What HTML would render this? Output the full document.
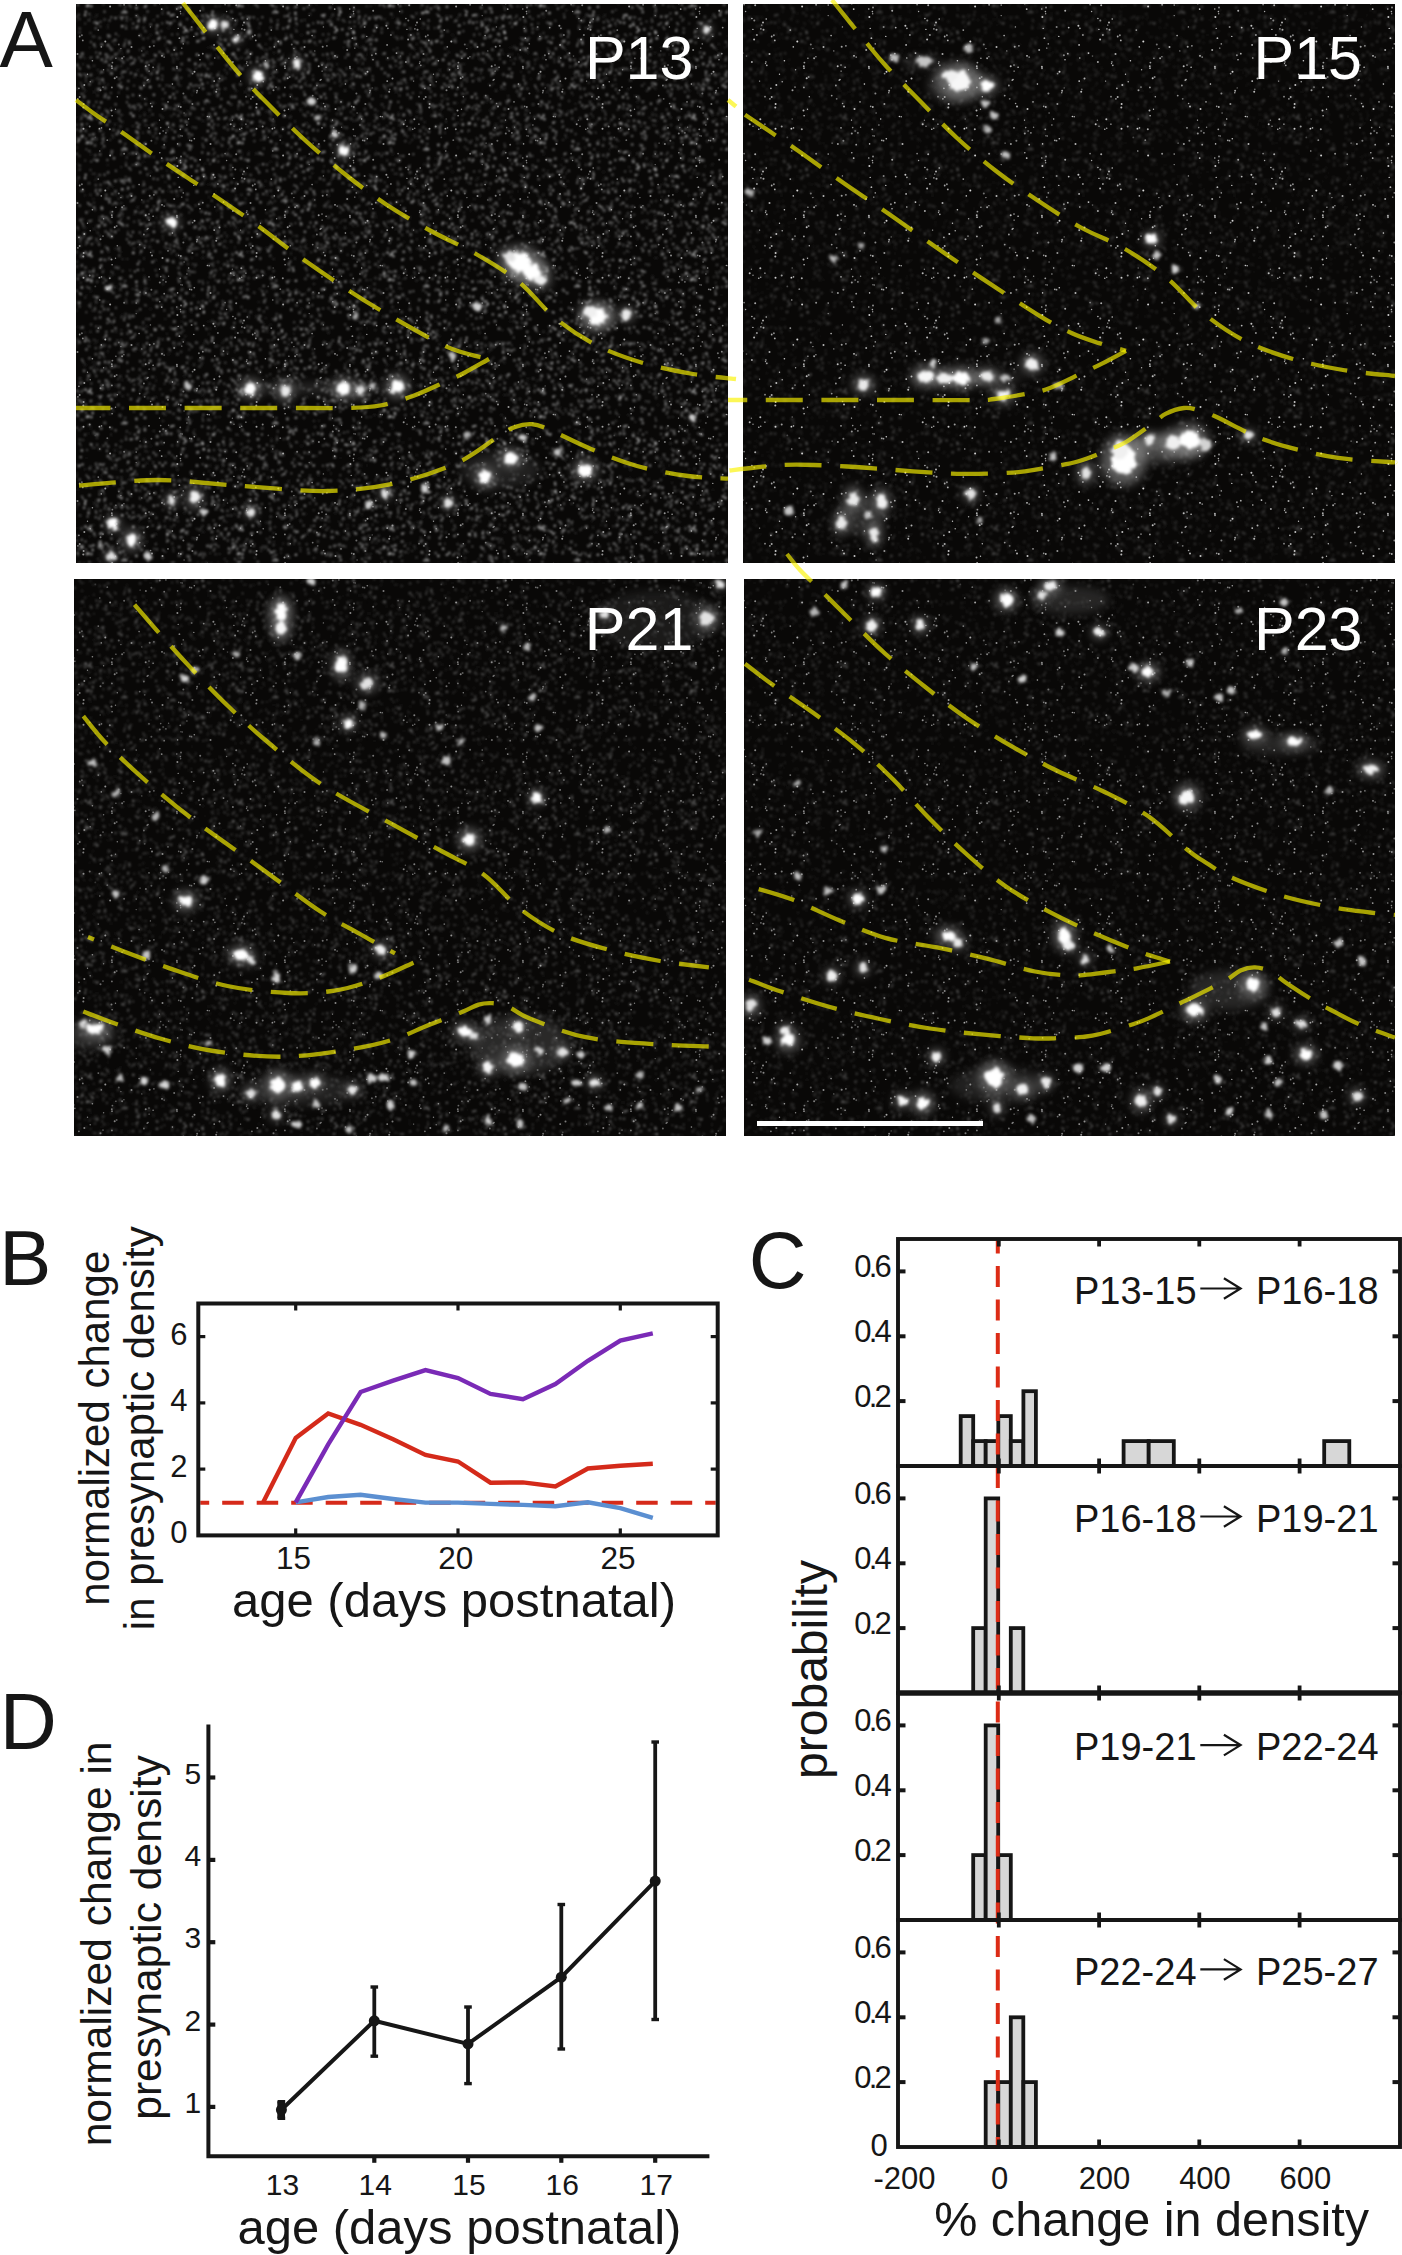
<!DOCTYPE html>
<html><head><meta charset="utf-8"><title>Figure</title>
<style>
html,body{margin:0;padding:0;background:#fff;}
body{width:1402px;height:2255px;overflow:hidden;}
svg{display:block;font-family:"Liberation Sans", sans-serif;}
</style></head>
<body>
<svg width="1402" height="2255" viewBox="0 0 1402 2255">
<rect width="1402" height="2255" fill="#fff"/>
<defs>
<clipPath id="pc0"><rect x="76" y="4" width="652" height="559"/></clipPath>
<clipPath id="pc1"><rect x="743" y="4" width="652" height="559"/></clipPath>
<clipPath id="pc2"><rect x="74" y="579" width="652" height="557"/></clipPath>
<clipPath id="pc3"><rect x="744" y="579" width="651" height="557"/></clipPath>
<clipPath id="pall"><rect x="76" y="4" width="652" height="559"/><rect x="743" y="4" width="652" height="559"/><rect x="74" y="579" width="652" height="557"/><rect x="744" y="579" width="651" height="557"/></clipPath>
<filter id="blur" x="-50%" y="-50%" width="200%" height="200%"><feTurbulence type="fractalNoise" baseFrequency="0.18" numOctaves="2" seed="5" result="n"/><feDisplacementMap in="SourceGraphic" in2="n" scale="7" xChannelSelector="R" yChannelSelector="G" result="d"/><feGaussianBlur in="d" stdDeviation="1.4"/></filter>
<filter id="glow" x="-50%" y="-50%" width="200%" height="200%"><feGaussianBlur stdDeviation="5"/></filter>
<pattern id="spA" patternUnits="userSpaceOnUse" width="151" height="137"><circle cx="20.3" cy="116.1" r="0.8" fill="#626262"/><circle cx="67.9" cy="89.3" r="1.0" fill="#8c8c8c"/><circle cx="14.2" cy="3.9" r="1.2" fill="#2d2d2d"/><circle cx="0.3" cy="61.0" r="1.0" fill="#7c7c7c"/><circle cx="151.3" cy="61.0" r="1.0" fill="#7c7c7c"/><circle cx="89.3" cy="14.0" r="1.1" fill="#6b6b6b"/><circle cx="81.8" cy="128.7" r="1.2" fill="#656565"/><circle cx="103.7" cy="132.8" r="0.8" fill="#292929"/><circle cx="141.8" cy="75.7" r="1.1" fill="#595959"/><circle cx="34.9" cy="30.0" r="1.2" fill="#b0b0b0"/><circle cx="62.8" cy="125.5" r="0.8" fill="#4c4c4c"/><circle cx="28.1" cy="136.0" r="1.1" fill="#7a7a7a"/><circle cx="28.1" cy="-1.0" r="1.1" fill="#7a7a7a"/><circle cx="108.9" cy="97.4" r="1.2" fill="#797979"/><circle cx="76.7" cy="124.7" r="1.0" fill="#545454"/><circle cx="133.3" cy="115.9" r="1.4" fill="#8f8f8f"/><circle cx="59.4" cy="116.9" r="1.2" fill="#666666"/><circle cx="62.6" cy="23.7" r="1.4" fill="#a2a2a2"/><circle cx="133.3" cy="106.3" r="1.1" fill="#909090"/><circle cx="16.3" cy="22.4" r="1.2" fill="#7e7e7e"/><circle cx="55.9" cy="100.4" r="1.2" fill="#989898"/><circle cx="148.5" cy="81.3" r="1.2" fill="#727272"/><circle cx="97.7" cy="23.1" r="1.0" fill="#9f9f9f"/><circle cx="81.5" cy="117.9" r="1.0" fill="#5d5d5d"/><circle cx="61.1" cy="47.1" r="1.4" fill="#353535"/><circle cx="99.5" cy="83.4" r="0.8" fill="#a1a1a1"/><circle cx="57.9" cy="117.4" r="1.4" fill="#737373"/><circle cx="84.8" cy="58.4" r="0.8" fill="#3c3c3c"/><circle cx="72.6" cy="50.0" r="1.4" fill="#707070"/><circle cx="73.2" cy="48.9" r="1.1" fill="#8b8b8b"/><circle cx="0.2" cy="74.0" r="1.4" fill="#4c4c4c"/><circle cx="151.2" cy="74.0" r="1.4" fill="#4c4c4c"/><circle cx="121.5" cy="87.0" r="1.4" fill="#8d8d8d"/><circle cx="88.3" cy="118.0" r="1.4" fill="#767676"/><circle cx="38.5" cy="115.3" r="0.8" fill="#282828"/><circle cx="12.6" cy="2.3" r="0.8" fill="#646464"/><circle cx="40.6" cy="109.2" r="1.0" fill="#474747"/><circle cx="52.0" cy="9.5" r="1.0" fill="#616161"/><circle cx="99.2" cy="88.8" r="1.1" fill="#bababa"/><circle cx="68.7" cy="44.1" r="1.2" fill="#7a7a7a"/><circle cx="51.8" cy="109.1" r="1.1" fill="#777777"/><circle cx="16.4" cy="123.3" r="1.4" fill="#bdbdbd"/><circle cx="65.2" cy="133.7" r="1.0" fill="#565656"/><circle cx="2.7" cy="20.1" r="1.0" fill="#3c3c3c"/><circle cx="64.4" cy="114.0" r="1.4" fill="#717171"/><circle cx="68.1" cy="71.8" r="0.8" fill="#3f3f3f"/><circle cx="48.5" cy="86.4" r="0.8" fill="#808080"/><circle cx="111.4" cy="17.2" r="1.0" fill="#797979"/><circle cx="129.6" cy="42.5" r="1.1" fill="#4e4e4e"/><circle cx="112.3" cy="57.0" r="1.1" fill="#828282"/><circle cx="128.4" cy="80.9" r="1.0" fill="#848484"/><circle cx="145.3" cy="78.1" r="1.0" fill="#858585"/><circle cx="117.8" cy="85.3" r="0.8" fill="#282828"/><circle cx="57.1" cy="47.5" r="1.0" fill="#282828"/><circle cx="89.3" cy="67.5" r="1.2" fill="#424242"/><circle cx="44.7" cy="68.5" r="1.1" fill="#484848"/><circle cx="42.5" cy="21.5" r="1.1" fill="#4d4d4d"/><circle cx="122.5" cy="77.2" r="1.0" fill="#575757"/><circle cx="101.8" cy="114.8" r="1.4" fill="#787878"/><circle cx="51.9" cy="120.9" r="1.4" fill="#282828"/><circle cx="35.4" cy="99.4" r="0.8" fill="#6d6d6d"/><circle cx="20.1" cy="22.8" r="1.4" fill="#717171"/><circle cx="90.6" cy="115.2" r="1.1" fill="#9d9d9d"/><circle cx="51.2" cy="15.6" r="1.0" fill="#848484"/><circle cx="144.1" cy="121.6" r="1.0" fill="#404040"/><circle cx="87.6" cy="105.5" r="1.1" fill="#717171"/><circle cx="130.8" cy="108.0" r="1.0" fill="#676767"/><circle cx="51.5" cy="84.3" r="1.2" fill="#8b8b8b"/><circle cx="85.5" cy="130.5" r="1.1" fill="#787878"/><circle cx="134.5" cy="77.3" r="0.8" fill="#484848"/><circle cx="118.8" cy="113.4" r="0.8" fill="#6b6b6b"/><circle cx="92.7" cy="2.0" r="1.2" fill="#9a9a9a"/><circle cx="92.7" cy="139.0" r="1.2" fill="#9a9a9a"/><circle cx="6.0" cy="32.8" r="1.4" fill="#949494"/><circle cx="63.6" cy="15.8" r="1.0" fill="#5b5b5b"/><circle cx="127.6" cy="59.6" r="1.2" fill="#515151"/><circle cx="121.8" cy="74.4" r="1.1" fill="#2f2f2f"/><circle cx="47.5" cy="28.4" r="1.1" fill="#525252"/><circle cx="6.0" cy="1.4" r="1.1" fill="#5f5f5f"/><circle cx="6.0" cy="138.4" r="1.1" fill="#5f5f5f"/><circle cx="59.1" cy="54.6" r="0.8" fill="#454545"/><circle cx="137.9" cy="132.9" r="1.2" fill="#767676"/><circle cx="93.3" cy="134.3" r="1.4" fill="#737373"/><circle cx="131.0" cy="64.2" r="1.1" fill="#616161"/><circle cx="46.4" cy="33.8" r="0.8" fill="#8f8f8f"/><circle cx="123.8" cy="12.2" r="1.2" fill="#8a8a8a"/><circle cx="51.2" cy="31.2" r="1.1" fill="#7c7c7c"/><circle cx="6.2" cy="25.6" r="1.4" fill="#7b7b7b"/><circle cx="50.5" cy="74.6" r="1.4" fill="#515151"/><circle cx="121.9" cy="12.6" r="1.0" fill="#7d7d7d"/><circle cx="10.9" cy="75.5" r="0.8" fill="#676767"/><circle cx="110.1" cy="2.9" r="0.8" fill="#545454"/><circle cx="74.5" cy="118.2" r="1.0" fill="#a0a0a0"/><circle cx="15.2" cy="106.6" r="1.1" fill="#afafaf"/><circle cx="26.2" cy="106.3" r="1.0" fill="#8b8b8b"/><circle cx="124.1" cy="43.8" r="0.8" fill="#535353"/><circle cx="90.9" cy="17.3" r="1.0" fill="#282828"/><circle cx="21.4" cy="124.7" r="0.8" fill="#707070"/><circle cx="94.2" cy="92.1" r="1.4" fill="#282828"/><circle cx="126.9" cy="102.2" r="1.0" fill="#747474"/><circle cx="23.8" cy="97.9" r="1.0" fill="#858585"/><circle cx="38.1" cy="8.8" r="1.2" fill="#737373"/><circle cx="81.7" cy="116.6" r="1.2" fill="#3a3a3a"/><circle cx="1.6" cy="114.6" r="1.0" fill="#636363"/><circle cx="152.6" cy="114.6" r="1.0" fill="#636363"/><circle cx="97.6" cy="57.1" r="1.4" fill="#6b6b6b"/><circle cx="2.9" cy="94.8" r="1.4" fill="#6f6f6f"/><circle cx="39.1" cy="113.6" r="1.2" fill="#717171"/><circle cx="85.2" cy="23.6" r="0.8" fill="#646464"/><circle cx="79.8" cy="68.6" r="1.2" fill="#686868"/><circle cx="140.4" cy="87.6" r="1.0" fill="#666666"/><circle cx="72.3" cy="30.8" r="1.2" fill="#8c8c8c"/><circle cx="50.9" cy="83.7" r="1.1" fill="#7c7c7c"/><circle cx="139.2" cy="104.6" r="1.1" fill="#5f5f5f"/><circle cx="24.1" cy="104.9" r="1.0" fill="#4f4f4f"/><circle cx="128.2" cy="50.9" r="1.2" fill="#959595"/><circle cx="89.8" cy="117.3" r="1.4" fill="#909090"/><circle cx="26.6" cy="34.3" r="1.0" fill="#585858"/><circle cx="142.2" cy="98.6" r="0.8" fill="#414141"/><circle cx="96.2" cy="52.6" r="1.0" fill="#656565"/><circle cx="82.2" cy="136.2" r="1.4" fill="#a3a3a3"/><circle cx="82.2" cy="-0.8" r="1.4" fill="#a3a3a3"/><circle cx="94.9" cy="36.7" r="0.8" fill="#5c5c5c"/><circle cx="144.9" cy="19.1" r="1.4" fill="#808080"/><circle cx="105.8" cy="61.0" r="1.0" fill="#383838"/><circle cx="146.7" cy="52.4" r="1.2" fill="#282828"/><circle cx="66.2" cy="85.3" r="1.2" fill="#929292"/><circle cx="144.9" cy="16.3" r="1.4" fill="#282828"/><circle cx="99.7" cy="38.0" r="1.2" fill="#535353"/><circle cx="113.2" cy="0.5" r="1.0" fill="#363636"/><circle cx="113.2" cy="137.5" r="1.0" fill="#363636"/><circle cx="4.7" cy="133.3" r="1.0" fill="#5b5b5b"/><circle cx="126.1" cy="28.3" r="1.1" fill="#717171"/><circle cx="47.0" cy="103.8" r="1.2" fill="#767676"/><circle cx="119.5" cy="110.8" r="1.0" fill="#3c3c3c"/><circle cx="129.2" cy="105.4" r="1.4" fill="#585858"/><circle cx="132.7" cy="28.1" r="0.8" fill="#6a6a6a"/><circle cx="86.0" cy="1.8" r="1.1" fill="#5f5f5f"/><circle cx="86.0" cy="138.8" r="1.1" fill="#5f5f5f"/><circle cx="145.7" cy="104.3" r="1.0" fill="#828282"/><circle cx="121.6" cy="59.9" r="1.1" fill="#737373"/><circle cx="114.6" cy="44.3" r="0.8" fill="#404040"/><circle cx="46.0" cy="54.7" r="1.4" fill="#717171"/><circle cx="74.3" cy="88.7" r="1.2" fill="#424242"/><circle cx="150.2" cy="87.1" r="1.4" fill="#828282"/><circle cx="-0.8" cy="87.1" r="1.4" fill="#828282"/><circle cx="30.0" cy="126.5" r="1.4" fill="#767676"/><circle cx="112.4" cy="135.3" r="1.1" fill="#454545"/><circle cx="112.4" cy="-1.7" r="1.1" fill="#454545"/><circle cx="106.1" cy="61.6" r="1.4" fill="#717171"/><circle cx="102.5" cy="79.4" r="1.2" fill="#8c8c8c"/><circle cx="50.7" cy="85.2" r="0.8" fill="#2a2a2a"/><circle cx="96.7" cy="88.9" r="0.8" fill="#666666"/><circle cx="61.5" cy="86.2" r="1.2" fill="#717171"/><circle cx="115.9" cy="111.7" r="1.4" fill="#282828"/><circle cx="1.5" cy="125.0" r="1.2" fill="#828282"/><circle cx="152.5" cy="125.0" r="1.2" fill="#828282"/><circle cx="23.0" cy="114.1" r="1.2" fill="#444444"/><circle cx="25.6" cy="69.9" r="1.1" fill="#2a2a2a"/><circle cx="63.8" cy="48.7" r="1.2" fill="#606060"/><circle cx="3.0" cy="69.5" r="1.0" fill="#575757"/><circle cx="104.0" cy="82.9" r="1.0" fill="#424242"/><circle cx="79.7" cy="32.5" r="1.1" fill="#626262"/><circle cx="125.4" cy="71.7" r="1.1" fill="#717171"/><circle cx="70.7" cy="76.4" r="0.8" fill="#7c7c7c"/><circle cx="107.7" cy="111.7" r="1.1" fill="#909090"/><circle cx="53.7" cy="101.4" r="1.2" fill="#505050"/><circle cx="119.3" cy="118.7" r="1.1" fill="#5b5b5b"/><circle cx="108.1" cy="35.5" r="1.4" fill="#515151"/><circle cx="4.6" cy="123.2" r="1.4" fill="#282828"/><circle cx="60.8" cy="127.1" r="1.0" fill="#696969"/><circle cx="94.5" cy="22.7" r="1.4" fill="#4d4d4d"/><circle cx="67.0" cy="125.1" r="1.0" fill="#4e4e4e"/><circle cx="79.5" cy="19.0" r="1.0" fill="#535353"/><circle cx="135.0" cy="60.4" r="1.1" fill="#646464"/><circle cx="108.4" cy="98.4" r="1.1" fill="#4a4a4a"/><circle cx="10.3" cy="31.2" r="1.1" fill="#535353"/><circle cx="28.2" cy="7.6" r="1.4" fill="#646464"/><circle cx="3.5" cy="103.1" r="0.8" fill="#393939"/><circle cx="109.3" cy="121.5" r="1.2" fill="#656565"/><circle cx="51.7" cy="114.8" r="0.8" fill="#535353"/><circle cx="33.5" cy="32.0" r="1.2" fill="#555555"/><circle cx="57.1" cy="23.1" r="1.0" fill="#666666"/><circle cx="82.6" cy="53.4" r="1.2" fill="#808080"/><circle cx="108.0" cy="45.2" r="1.4" fill="#767676"/><circle cx="11.9" cy="2.1" r="0.8" fill="#737373"/><circle cx="129.5" cy="43.8" r="1.2" fill="#747474"/><circle cx="29.6" cy="21.9" r="1.0" fill="#4c4c4c"/><circle cx="119.9" cy="4.2" r="1.2" fill="#838383"/><circle cx="8.6" cy="52.0" r="1.0" fill="#8c8c8c"/><circle cx="12.0" cy="89.3" r="1.1" fill="#6b6b6b"/><circle cx="9.2" cy="115.2" r="0.8" fill="#5e5e5e"/><circle cx="140.9" cy="107.0" r="1.2" fill="#6a6a6a"/><circle cx="96.3" cy="102.0" r="1.0" fill="#686868"/><circle cx="100.1" cy="53.4" r="1.1" fill="#959595"/><circle cx="36.7" cy="8.2" r="1.4" fill="#5a5a5a"/><circle cx="26.5" cy="58.7" r="1.4" fill="#282828"/><circle cx="136.7" cy="74.9" r="1.4" fill="#282828"/><circle cx="30.1" cy="120.6" r="1.2" fill="#6f6f6f"/><circle cx="40.3" cy="83.7" r="0.8" fill="#5d5d5d"/><circle cx="38.0" cy="133.8" r="1.0" fill="#7a7a7a"/><circle cx="64.6" cy="6.2" r="0.8" fill="#6c6c6c"/><circle cx="137.8" cy="70.3" r="1.4" fill="#282828"/><circle cx="6.1" cy="72.8" r="1.2" fill="#adadad"/><circle cx="100.3" cy="122.7" r="1.2" fill="#8e8e8e"/><circle cx="13.6" cy="109.7" r="0.8" fill="#6a6a6a"/><circle cx="45.6" cy="117.8" r="0.8" fill="#606060"/><circle cx="19.6" cy="108.9" r="0.8" fill="#454545"/><circle cx="129.2" cy="41.6" r="1.2" fill="#7a7a7a"/><circle cx="31.0" cy="126.5" r="1.4" fill="#414141"/><circle cx="118.3" cy="131.0" r="1.4" fill="#515151"/><circle cx="123.0" cy="71.8" r="1.4" fill="#666666"/><circle cx="108.6" cy="114.4" r="1.4" fill="#282828"/><circle cx="125.6" cy="39.9" r="1.0" fill="#535353"/><circle cx="30.2" cy="53.3" r="1.1" fill="#7e7e7e"/><circle cx="86.8" cy="6.0" r="1.4" fill="#767676"/><circle cx="47.4" cy="40.9" r="1.1" fill="#5b5b5b"/><circle cx="78.5" cy="1.2" r="0.8" fill="#9d9d9d"/><circle cx="78.5" cy="138.2" r="0.8" fill="#9d9d9d"/><circle cx="22.5" cy="125.3" r="1.1" fill="#6d6d6d"/><circle cx="68.2" cy="38.3" r="1.2" fill="#373737"/><circle cx="137.8" cy="127.1" r="1.2" fill="#838383"/><circle cx="139.3" cy="109.8" r="1.0" fill="#282828"/><circle cx="7.4" cy="67.4" r="1.1" fill="#6f6f6f"/><circle cx="112.7" cy="49.5" r="1.1" fill="#2e2e2e"/><circle cx="60.8" cy="63.6" r="1.1" fill="#4f4f4f"/><circle cx="22.4" cy="94.2" r="1.4" fill="#5f5f5f"/><circle cx="20.1" cy="15.4" r="1.2" fill="#919191"/><circle cx="122.6" cy="134.1" r="1.1" fill="#515151"/><circle cx="107.9" cy="28.0" r="0.8" fill="#474747"/><circle cx="11.9" cy="10.0" r="1.0" fill="#444444"/><circle cx="97.1" cy="23.8" r="1.2" fill="#858585"/><circle cx="128.0" cy="97.3" r="1.1" fill="#686868"/><circle cx="33.2" cy="27.5" r="1.2" fill="#959595"/><circle cx="64.2" cy="92.6" r="1.4" fill="#2c2c2c"/><circle cx="137.8" cy="25.9" r="1.2" fill="#5a5a5a"/><circle cx="150.7" cy="35.1" r="1.0" fill="#282828"/><circle cx="-0.3" cy="35.1" r="1.0" fill="#282828"/><circle cx="1.3" cy="72.9" r="1.2" fill="#3b3b3b"/><circle cx="152.3" cy="72.9" r="1.2" fill="#3b3b3b"/><circle cx="61.0" cy="120.9" r="1.4" fill="#606060"/><circle cx="88.3" cy="5.5" r="1.2" fill="#bcbcbc"/><circle cx="105.1" cy="88.0" r="1.4" fill="#676767"/><circle cx="18.1" cy="41.5" r="1.1" fill="#8f8f8f"/><circle cx="86.4" cy="75.5" r="1.4" fill="#5c5c5c"/><circle cx="62.1" cy="128.7" r="1.4" fill="#3a3a3a"/><circle cx="46.5" cy="41.4" r="1.4" fill="#7e7e7e"/><circle cx="67.1" cy="19.2" r="1.0" fill="#636363"/><circle cx="64.1" cy="90.6" r="0.8" fill="#686868"/><circle cx="55.6" cy="55.1" r="0.8" fill="#a4a4a4"/><circle cx="127.8" cy="52.5" r="1.2" fill="#343434"/><circle cx="41.1" cy="107.1" r="1.2" fill="#686868"/><circle cx="121.3" cy="66.3" r="1.0" fill="#414141"/><circle cx="62.7" cy="2.5" r="1.0" fill="#717171"/><circle cx="19.2" cy="107.7" r="1.2" fill="#454545"/><circle cx="38.9" cy="70.4" r="1.2" fill="#565656"/><circle cx="117.3" cy="66.6" r="1.2" fill="#414141"/><circle cx="143.4" cy="55.1" r="1.2" fill="#737373"/><circle cx="145.9" cy="31.4" r="0.8" fill="#6e6e6e"/><circle cx="15.6" cy="21.3" r="0.8" fill="#363636"/><circle cx="126.0" cy="12.2" r="1.4" fill="#858585"/><circle cx="144.2" cy="7.0" r="1.0" fill="#444444"/><circle cx="142.9" cy="132.8" r="0.8" fill="#5d5d5d"/><circle cx="110.9" cy="93.0" r="0.8" fill="#999999"/><circle cx="27.0" cy="110.3" r="0.8" fill="#626262"/><circle cx="118.7" cy="92.7" r="0.8" fill="#707070"/><circle cx="67.5" cy="93.4" r="1.2" fill="#565656"/><circle cx="136.7" cy="15.9" r="1.2" fill="#7f7f7f"/><circle cx="136.7" cy="27.6" r="1.4" fill="#797979"/><circle cx="38.9" cy="101.8" r="1.4" fill="#5a5a5a"/><circle cx="135.1" cy="74.6" r="1.0" fill="#8b8b8b"/><circle cx="119.1" cy="85.4" r="1.2" fill="#939393"/><circle cx="110.1" cy="47.5" r="1.1" fill="#878787"/><circle cx="8.5" cy="85.7" r="1.1" fill="#686868"/><circle cx="34.5" cy="37.6" r="1.0" fill="#282828"/><circle cx="62.2" cy="17.8" r="1.0" fill="#3a3a3a"/><circle cx="136.4" cy="8.0" r="1.4" fill="#7f7f7f"/><circle cx="76.9" cy="129.6" r="1.1" fill="#595959"/><circle cx="40.3" cy="29.4" r="1.1" fill="#999999"/><circle cx="90.5" cy="33.1" r="1.0" fill="#525252"/><circle cx="132.9" cy="95.1" r="1.4" fill="#565656"/><circle cx="22.6" cy="69.0" r="1.4" fill="#515151"/><circle cx="122.6" cy="122.1" r="1.1" fill="#353535"/><circle cx="94.0" cy="65.8" r="0.8" fill="#717171"/><circle cx="38.7" cy="12.1" r="1.4" fill="#717171"/><circle cx="125.2" cy="6.9" r="1.0" fill="#5a5a5a"/><circle cx="30.1" cy="77.8" r="1.1" fill="#4d4d4d"/><circle cx="63.8" cy="0.6" r="0.8" fill="#808080"/><circle cx="63.8" cy="137.6" r="0.8" fill="#808080"/><circle cx="33.3" cy="101.8" r="1.1" fill="#292929"/><circle cx="102.8" cy="134.9" r="1.1" fill="#5d5d5d"/><circle cx="57.3" cy="16.7" r="1.1" fill="#9b9b9b"/><circle cx="21.1" cy="34.4" r="1.0" fill="#5f5f5f"/><circle cx="11.7" cy="99.3" r="0.8" fill="#5a5a5a"/><circle cx="45.3" cy="34.1" r="1.4" fill="#6c6c6c"/><circle cx="21.0" cy="54.7" r="1.0" fill="#666666"/><circle cx="14.2" cy="45.0" r="0.8" fill="#454545"/><circle cx="143.2" cy="48.3" r="1.0" fill="#616161"/><circle cx="91.5" cy="119.2" r="1.2" fill="#8a8a8a"/><circle cx="109.5" cy="65.2" r="1.2" fill="#7c7c7c"/><circle cx="80.9" cy="53.9" r="1.0" fill="#464646"/><circle cx="8.1" cy="69.7" r="1.0" fill="#434343"/><circle cx="36.3" cy="122.9" r="1.1" fill="#4a4a4a"/><circle cx="40.9" cy="72.6" r="1.2" fill="#5c5c5c"/><circle cx="19.0" cy="97.1" r="1.1" fill="#bbbbbb"/><circle cx="54.8" cy="76.1" r="1.4" fill="#8c8c8c"/><circle cx="103.4" cy="4.2" r="1.1" fill="#525252"/><circle cx="11.2" cy="79.4" r="1.0" fill="#6a6a6a"/><circle cx="73.1" cy="109.7" r="1.1" fill="#505050"/><circle cx="23.5" cy="108.9" r="1.2" fill="#797979"/><circle cx="61.3" cy="133.8" r="1.0" fill="#5d5d5d"/><circle cx="120.7" cy="82.7" r="0.8" fill="#979797"/><circle cx="81.1" cy="1.3" r="1.0" fill="#434343"/><circle cx="81.1" cy="138.3" r="1.0" fill="#434343"/><circle cx="133.3" cy="63.0" r="1.2" fill="#828282"/><circle cx="90.4" cy="57.9" r="1.1" fill="#3b3b3b"/><circle cx="8.0" cy="64.5" r="0.8" fill="#7d7d7d"/><circle cx="97.6" cy="95.5" r="0.8" fill="#7a7a7a"/><circle cx="80.1" cy="104.6" r="1.4" fill="#3b3b3b"/><circle cx="40.9" cy="134.8" r="1.1" fill="#787878"/><circle cx="37.0" cy="110.7" r="1.0" fill="#282828"/><circle cx="15.9" cy="130.4" r="1.0" fill="#6b6b6b"/><circle cx="106.3" cy="57.9" r="1.1" fill="#6a6a6a"/><circle cx="38.3" cy="85.7" r="0.8" fill="#494949"/><circle cx="54.2" cy="103.3" r="1.1" fill="#4b4b4b"/><circle cx="66.6" cy="95.8" r="1.4" fill="#585858"/><circle cx="101.6" cy="122.1" r="1.0" fill="#626262"/><circle cx="82.0" cy="85.7" r="1.1" fill="#646464"/><circle cx="88.0" cy="65.8" r="1.0" fill="#525252"/><circle cx="57.9" cy="114.2" r="1.0" fill="#4f4f4f"/><circle cx="37.5" cy="133.6" r="1.1" fill="#737373"/><circle cx="99.1" cy="107.5" r="1.2" fill="#626262"/><circle cx="98.4" cy="90.9" r="1.0" fill="#424242"/><circle cx="65.2" cy="54.6" r="0.8" fill="#282828"/><circle cx="126.8" cy="20.5" r="1.2" fill="#414141"/><circle cx="62.6" cy="109.5" r="0.8" fill="#888888"/><circle cx="56.9" cy="68.8" r="1.1" fill="#565656"/><circle cx="138.6" cy="21.1" r="1.4" fill="#8a8a8a"/><circle cx="2.8" cy="54.3" r="1.0" fill="#282828"/><circle cx="81.2" cy="53.5" r="0.8" fill="#4a4a4a"/><circle cx="63.9" cy="21.8" r="1.0" fill="#5c5c5c"/><circle cx="51.7" cy="32.8" r="1.4" fill="#b5b5b5"/><circle cx="26.5" cy="80.2" r="1.4" fill="#404040"/><circle cx="32.7" cy="32.3" r="0.8" fill="#979797"/><circle cx="105.7" cy="94.6" r="1.4" fill="#4d4d4d"/><circle cx="11.7" cy="54.5" r="1.2" fill="#888888"/><circle cx="58.4" cy="76.7" r="1.2" fill="#868686"/><circle cx="6.8" cy="71.0" r="0.8" fill="#a8a8a8"/><circle cx="70.4" cy="99.0" r="1.0" fill="#6d6d6d"/><circle cx="89.8" cy="135.1" r="1.1" fill="#6a6a6a"/><circle cx="89.8" cy="-1.9" r="1.1" fill="#6a6a6a"/><circle cx="149.8" cy="110.0" r="1.4" fill="#323232"/><circle cx="-1.2" cy="110.0" r="1.4" fill="#323232"/><circle cx="25.3" cy="54.2" r="1.2" fill="#727272"/><circle cx="42.0" cy="127.2" r="1.1" fill="#3d3d3d"/><circle cx="85.6" cy="115.7" r="1.4" fill="#808080"/><circle cx="140.2" cy="35.4" r="1.1" fill="#747474"/><circle cx="52.8" cy="38.2" r="1.2" fill="#bababa"/><circle cx="144.8" cy="31.0" r="0.8" fill="#6b6b6b"/><circle cx="121.1" cy="73.6" r="1.0" fill="#2e2e2e"/><circle cx="36.2" cy="19.1" r="1.2" fill="#555555"/><circle cx="59.1" cy="26.8" r="0.8" fill="#818181"/><circle cx="4.6" cy="55.5" r="1.2" fill="#8e8e8e"/><circle cx="103.0" cy="81.0" r="1.0" fill="#4f4f4f"/><circle cx="140.0" cy="116.4" r="1.0" fill="#3d3d3d"/><circle cx="43.1" cy="90.7" r="1.2" fill="#3a3a3a"/><circle cx="34.0" cy="97.2" r="1.1" fill="#989898"/><circle cx="74.3" cy="40.0" r="1.4" fill="#6f6f6f"/><circle cx="70.0" cy="39.8" r="1.4" fill="#4e4e4e"/><circle cx="89.5" cy="84.3" r="1.2" fill="#636363"/><circle cx="125.1" cy="43.2" r="1.0" fill="#707070"/><circle cx="144.5" cy="86.2" r="0.8" fill="#808080"/><circle cx="88.6" cy="102.0" r="1.4" fill="#7c7c7c"/><circle cx="76.7" cy="16.7" r="1.0" fill="#727272"/><circle cx="139.4" cy="18.4" r="1.4" fill="#444444"/><circle cx="38.4" cy="0.5" r="0.8" fill="#888888"/><circle cx="38.4" cy="137.5" r="0.8" fill="#888888"/><circle cx="85.0" cy="90.8" r="1.4" fill="#282828"/><circle cx="92.7" cy="36.7" r="1.0" fill="#3e3e3e"/><circle cx="75.9" cy="117.2" r="1.1" fill="#282828"/><circle cx="116.1" cy="57.7" r="1.1" fill="#2f2f2f"/><circle cx="125.9" cy="25.6" r="0.8" fill="#656565"/><circle cx="68.5" cy="6.1" r="1.0" fill="#373737"/><circle cx="124.2" cy="46.1" r="1.0" fill="#878787"/><circle cx="14.2" cy="92.9" r="0.8" fill="#898989"/><circle cx="28.5" cy="23.7" r="1.4" fill="#2d2d2d"/><circle cx="28.7" cy="69.8" r="1.4" fill="#535353"/><circle cx="99.5" cy="80.3" r="0.8" fill="#777777"/><circle cx="51.5" cy="7.1" r="0.8" fill="#6f6f6f"/><circle cx="22.3" cy="124.2" r="1.1" fill="#515151"/><circle cx="70.8" cy="79.9" r="0.8" fill="#a6a6a6"/><circle cx="59.8" cy="136.1" r="1.4" fill="#606060"/><circle cx="59.8" cy="-0.9" r="1.4" fill="#606060"/><circle cx="127.2" cy="88.5" r="1.2" fill="#606060"/><circle cx="145.1" cy="6.7" r="1.2" fill="#848484"/><circle cx="2.6" cy="41.7" r="1.1" fill="#717171"/><circle cx="83.9" cy="136.6" r="0.8" fill="#363636"/><circle cx="83.9" cy="-0.4" r="0.8" fill="#363636"/><circle cx="130.6" cy="107.8" r="1.1" fill="#282828"/><circle cx="119.4" cy="78.9" r="0.8" fill="#a5a5a5"/><circle cx="5.6" cy="72.5" r="0.8" fill="#7d7d7d"/><circle cx="55.6" cy="75.5" r="1.1" fill="#515151"/><circle cx="88.0" cy="66.4" r="0.8" fill="#797979"/><circle cx="75.5" cy="111.0" r="0.8" fill="#444444"/><circle cx="139.3" cy="124.7" r="1.1" fill="#747474"/><circle cx="22.4" cy="14.8" r="1.1" fill="#acacac"/><circle cx="130.9" cy="57.7" r="1.1" fill="#a8a8a8"/><circle cx="91.9" cy="5.2" r="0.8" fill="#626262"/><circle cx="115.9" cy="33.8" r="1.1" fill="#656565"/><circle cx="42.9" cy="107.7" r="0.8" fill="#404040"/><circle cx="11.3" cy="23.3" r="1.1" fill="#545454"/><circle cx="83.2" cy="87.8" r="1.0" fill="#6d6d6d"/><circle cx="31.8" cy="38.0" r="1.2" fill="#8c8c8c"/><circle cx="118.9" cy="111.1" r="1.0" fill="#707070"/><circle cx="124.1" cy="10.3" r="1.1" fill="#545454"/><circle cx="77.9" cy="4.8" r="1.1" fill="#7c7c7c"/><circle cx="120.7" cy="5.1" r="1.1" fill="#515151"/><circle cx="84.1" cy="96.8" r="1.4" fill="#6e6e6e"/><circle cx="64.1" cy="133.3" r="1.0" fill="#696969"/><circle cx="147.0" cy="69.4" r="1.1" fill="#929292"/><circle cx="69.2" cy="107.1" r="1.1" fill="#828282"/><circle cx="145.6" cy="99.1" r="1.0" fill="#5c5c5c"/><circle cx="139.8" cy="87.0" r="0.8" fill="#6c6c6c"/><circle cx="38.3" cy="75.6" r="0.8" fill="#626262"/><circle cx="34.7" cy="121.6" r="1.4" fill="#676767"/><circle cx="79.8" cy="28.7" r="1.1" fill="#5b5b5b"/><circle cx="36.7" cy="69.3" r="1.1" fill="#3c3c3c"/><circle cx="29.5" cy="24.9" r="1.4" fill="#838383"/><circle cx="44.8" cy="127.8" r="1.2" fill="#4a4a4a"/><circle cx="73.6" cy="127.4" r="1.4" fill="#4e4e4e"/><circle cx="100.3" cy="130.5" r="1.2" fill="#797979"/><circle cx="51.2" cy="88.6" r="1.0" fill="#3b3b3b"/><circle cx="105.9" cy="110.2" r="1.4" fill="#3b3b3b"/><circle cx="75.7" cy="65.4" r="1.4" fill="#525252"/><circle cx="136.7" cy="105.2" r="1.4" fill="#282828"/><circle cx="102.0" cy="71.8" r="1.4" fill="#6f6f6f"/><circle cx="115.5" cy="54.3" r="1.4" fill="#626262"/><circle cx="91.3" cy="6.3" r="1.2" fill="#828282"/><circle cx="69.1" cy="48.7" r="1.4" fill="#313131"/><circle cx="139.8" cy="95.4" r="1.0" fill="#767676"/><circle cx="58.0" cy="59.9" r="0.8" fill="#3d3d3d"/><circle cx="1.2" cy="102.9" r="0.8" fill="#949494"/><circle cx="152.2" cy="102.9" r="0.8" fill="#949494"/></pattern>
<pattern id="spB" patternUnits="userSpaceOnUse" width="127" height="163"><circle cx="121.4" cy="154.5" r="0.8" fill="#7f7f7f"/><circle cx="21.5" cy="131.9" r="1.1" fill="#767676"/><circle cx="32.0" cy="34.6" r="0.8" fill="#525252"/><circle cx="54.7" cy="64.1" r="1.4" fill="#595959"/><circle cx="120.6" cy="88.7" r="1.2" fill="#282828"/><circle cx="110.6" cy="59.3" r="1.1" fill="#636363"/><circle cx="115.3" cy="69.0" r="1.4" fill="#6f6f6f"/><circle cx="29.3" cy="28.8" r="1.0" fill="#767676"/><circle cx="17.4" cy="83.2" r="1.4" fill="#595959"/><circle cx="113.5" cy="129.9" r="1.4" fill="#505050"/><circle cx="115.1" cy="124.4" r="1.4" fill="#282828"/><circle cx="122.2" cy="26.3" r="1.2" fill="#b2b2b2"/><circle cx="90.8" cy="75.2" r="1.4" fill="#646464"/><circle cx="63.3" cy="84.0" r="1.1" fill="#808080"/><circle cx="84.0" cy="74.1" r="1.2" fill="#424242"/><circle cx="70.8" cy="74.4" r="1.0" fill="#919191"/><circle cx="119.5" cy="132.8" r="1.0" fill="#868686"/><circle cx="98.2" cy="78.2" r="1.1" fill="#424242"/><circle cx="121.6" cy="115.1" r="1.4" fill="#3d3d3d"/><circle cx="78.2" cy="66.3" r="1.0" fill="#545454"/><circle cx="62.1" cy="59.8" r="1.4" fill="#919191"/><circle cx="43.4" cy="1.4" r="1.0" fill="#3a3a3a"/><circle cx="43.4" cy="164.4" r="1.0" fill="#3a3a3a"/><circle cx="126.6" cy="17.3" r="1.4" fill="#535353"/><circle cx="-0.4" cy="17.3" r="1.4" fill="#535353"/><circle cx="28.8" cy="142.7" r="0.8" fill="#4d4d4d"/><circle cx="95.8" cy="22.2" r="1.1" fill="#646464"/><circle cx="111.8" cy="68.9" r="0.8" fill="#7c7c7c"/><circle cx="7.2" cy="58.7" r="1.0" fill="#5d5d5d"/><circle cx="121.2" cy="4.1" r="0.8" fill="#575757"/><circle cx="47.4" cy="20.8" r="1.0" fill="#5f5f5f"/><circle cx="0.2" cy="96.1" r="1.0" fill="#393939"/><circle cx="127.2" cy="96.1" r="1.0" fill="#393939"/><circle cx="19.2" cy="5.9" r="1.1" fill="#919191"/><circle cx="95.0" cy="46.6" r="1.2" fill="#515151"/><circle cx="3.9" cy="73.1" r="1.4" fill="#5f5f5f"/><circle cx="96.0" cy="140.6" r="1.0" fill="#282828"/><circle cx="60.0" cy="36.8" r="1.1" fill="#686868"/><circle cx="100.1" cy="154.5" r="1.4" fill="#5d5d5d"/><circle cx="74.3" cy="64.1" r="1.4" fill="#424242"/><circle cx="43.3" cy="42.7" r="1.2" fill="#a2a2a2"/><circle cx="83.0" cy="114.0" r="1.0" fill="#575757"/><circle cx="16.7" cy="27.8" r="1.2" fill="#4c4c4c"/><circle cx="80.7" cy="82.8" r="0.8" fill="#7d7d7d"/><circle cx="56.5" cy="40.9" r="1.4" fill="#636363"/><circle cx="29.0" cy="129.0" r="1.4" fill="#5d5d5d"/><circle cx="53.7" cy="85.8" r="0.8" fill="#494949"/><circle cx="19.2" cy="62.7" r="1.0" fill="#8e8e8e"/><circle cx="30.6" cy="16.3" r="1.0" fill="#888888"/><circle cx="95.3" cy="17.2" r="0.8" fill="#3d3d3d"/><circle cx="39.3" cy="104.6" r="1.0" fill="#5e5e5e"/><circle cx="87.0" cy="124.0" r="1.0" fill="#5f5f5f"/><circle cx="65.0" cy="94.7" r="0.8" fill="#3e3e3e"/><circle cx="111.9" cy="151.4" r="1.4" fill="#6a6a6a"/><circle cx="101.9" cy="59.7" r="1.4" fill="#727272"/><circle cx="122.0" cy="19.3" r="1.1" fill="#4b4b4b"/><circle cx="47.3" cy="3.1" r="1.2" fill="#c5c5c5"/><circle cx="12.8" cy="49.9" r="0.8" fill="#686868"/><circle cx="80.9" cy="75.5" r="1.4" fill="#585858"/><circle cx="77.9" cy="0.9" r="0.8" fill="#2a2a2a"/><circle cx="77.9" cy="163.9" r="0.8" fill="#2a2a2a"/><circle cx="9.7" cy="123.1" r="1.0" fill="#9e9e9e"/><circle cx="14.7" cy="60.9" r="1.2" fill="#787878"/><circle cx="112.7" cy="41.4" r="0.8" fill="#7c7c7c"/><circle cx="10.2" cy="138.6" r="1.2" fill="#989898"/><circle cx="3.1" cy="107.4" r="0.8" fill="#565656"/><circle cx="91.9" cy="81.2" r="1.1" fill="#767676"/><circle cx="47.6" cy="78.9" r="1.2" fill="#5f5f5f"/><circle cx="91.4" cy="118.6" r="1.2" fill="#a0a0a0"/><circle cx="37.7" cy="37.8" r="1.2" fill="#484848"/><circle cx="75.8" cy="89.4" r="0.8" fill="#2c2c2c"/><circle cx="12.2" cy="58.0" r="1.4" fill="#424242"/><circle cx="18.6" cy="67.9" r="0.8" fill="#7b7b7b"/><circle cx="86.5" cy="132.0" r="0.8" fill="#282828"/><circle cx="16.3" cy="48.3" r="1.0" fill="#515151"/><circle cx="41.8" cy="28.1" r="1.1" fill="#282828"/><circle cx="14.2" cy="88.2" r="1.2" fill="#868686"/><circle cx="90.9" cy="41.9" r="1.0" fill="#7b7b7b"/><circle cx="58.5" cy="114.6" r="1.2" fill="#7b7b7b"/><circle cx="97.1" cy="118.8" r="1.2" fill="#4c4c4c"/><circle cx="56.0" cy="4.8" r="1.4" fill="#393939"/><circle cx="49.9" cy="8.7" r="1.1" fill="#8a8a8a"/><circle cx="51.4" cy="115.8" r="1.2" fill="#595959"/><circle cx="122.2" cy="53.9" r="0.8" fill="#3d3d3d"/><circle cx="96.7" cy="138.9" r="1.0" fill="#4d4d4d"/><circle cx="103.7" cy="62.4" r="0.8" fill="#5f5f5f"/><circle cx="39.7" cy="85.3" r="1.2" fill="#3e3e3e"/><circle cx="2.2" cy="153.7" r="1.4" fill="#2f2f2f"/><circle cx="77.0" cy="147.6" r="0.8" fill="#414141"/><circle cx="101.8" cy="44.7" r="1.4" fill="#808080"/><circle cx="73.7" cy="79.8" r="1.4" fill="#838383"/><circle cx="55.2" cy="41.4" r="1.4" fill="#888888"/><circle cx="22.0" cy="116.2" r="0.8" fill="#373737"/><circle cx="67.7" cy="109.1" r="0.8" fill="#a1a1a1"/><circle cx="95.8" cy="79.1" r="1.1" fill="#282828"/><circle cx="58.5" cy="160.9" r="1.4" fill="#767676"/><circle cx="95.8" cy="28.3" r="1.2" fill="#626262"/><circle cx="105.8" cy="117.3" r="0.8" fill="#959595"/><circle cx="20.6" cy="62.2" r="1.2" fill="#5a5a5a"/><circle cx="35.9" cy="76.2" r="0.8" fill="#515151"/><circle cx="46.5" cy="87.7" r="1.2" fill="#4e4e4e"/><circle cx="85.9" cy="81.2" r="1.0" fill="#5a5a5a"/><circle cx="61.4" cy="87.8" r="1.1" fill="#9d9d9d"/><circle cx="38.6" cy="105.3" r="1.1" fill="#828282"/><circle cx="83.0" cy="64.1" r="0.8" fill="#4b4b4b"/><circle cx="75.7" cy="138.2" r="1.0" fill="#626262"/><circle cx="101.3" cy="102.5" r="1.1" fill="#b6b6b6"/><circle cx="71.3" cy="85.2" r="0.8" fill="#797979"/><circle cx="121.6" cy="18.3" r="1.2" fill="#737373"/><circle cx="45.2" cy="54.6" r="1.1" fill="#505050"/><circle cx="21.1" cy="72.0" r="1.1" fill="#515151"/><circle cx="91.2" cy="161.5" r="1.0" fill="#686868"/><circle cx="91.2" cy="-1.5" r="1.0" fill="#686868"/><circle cx="118.1" cy="53.2" r="0.8" fill="#818181"/><circle cx="95.5" cy="137.9" r="1.0" fill="#4a4a4a"/><circle cx="45.2" cy="129.6" r="1.0" fill="#5e5e5e"/><circle cx="48.0" cy="131.8" r="1.1" fill="#8f8f8f"/><circle cx="35.7" cy="117.4" r="1.4" fill="#2e2e2e"/><circle cx="120.5" cy="121.0" r="1.1" fill="#636363"/><circle cx="67.6" cy="103.8" r="0.8" fill="#4c4c4c"/><circle cx="22.2" cy="156.1" r="1.1" fill="#7d7d7d"/><circle cx="56.0" cy="14.3" r="1.0" fill="#565656"/><circle cx="122.9" cy="17.0" r="1.0" fill="#838383"/><circle cx="45.6" cy="149.6" r="1.2" fill="#828282"/><circle cx="104.8" cy="96.9" r="1.4" fill="#656565"/><circle cx="36.2" cy="104.0" r="1.0" fill="#555555"/><circle cx="63.3" cy="158.2" r="1.0" fill="#767676"/><circle cx="42.1" cy="23.0" r="1.1" fill="#636363"/><circle cx="31.3" cy="39.1" r="1.4" fill="#848484"/><circle cx="6.0" cy="153.2" r="1.4" fill="#767676"/><circle cx="108.1" cy="70.1" r="1.1" fill="#6b6b6b"/><circle cx="16.9" cy="85.2" r="0.8" fill="#444444"/><circle cx="77.5" cy="64.3" r="0.8" fill="#969696"/><circle cx="49.8" cy="77.2" r="1.4" fill="#828282"/><circle cx="78.9" cy="14.8" r="1.4" fill="#444444"/><circle cx="68.4" cy="160.5" r="1.2" fill="#787878"/><circle cx="52.3" cy="85.5" r="0.8" fill="#434343"/><circle cx="111.6" cy="73.6" r="1.4" fill="#9d9d9d"/><circle cx="86.3" cy="149.2" r="0.8" fill="#9f9f9f"/><circle cx="49.9" cy="74.6" r="0.8" fill="#636363"/><circle cx="28.0" cy="4.1" r="1.2" fill="#989898"/><circle cx="85.1" cy="15.0" r="1.2" fill="#ababab"/><circle cx="30.7" cy="78.5" r="1.4" fill="#7b7b7b"/><circle cx="3.9" cy="113.4" r="1.4" fill="#797979"/><circle cx="116.7" cy="134.0" r="1.4" fill="#6c6c6c"/><circle cx="42.9" cy="86.1" r="1.0" fill="#7d7d7d"/><circle cx="16.7" cy="19.0" r="0.8" fill="#838383"/><circle cx="59.2" cy="130.1" r="1.4" fill="#6b6b6b"/><circle cx="79.1" cy="140.0" r="1.4" fill="#858585"/><circle cx="64.4" cy="149.5" r="1.0" fill="#282828"/><circle cx="19.2" cy="156.0" r="1.0" fill="#5f5f5f"/><circle cx="47.9" cy="48.5" r="1.2" fill="#6f6f6f"/><circle cx="39.8" cy="48.8" r="0.8" fill="#727272"/><circle cx="71.4" cy="77.1" r="1.1" fill="#3c3c3c"/><circle cx="35.5" cy="68.6" r="1.0" fill="#5d5d5d"/><circle cx="88.8" cy="107.3" r="0.8" fill="#353535"/><circle cx="27.0" cy="63.8" r="0.8" fill="#414141"/><circle cx="81.9" cy="101.9" r="1.1" fill="#585858"/><circle cx="6.1" cy="125.9" r="1.0" fill="#3e3e3e"/><circle cx="106.1" cy="97.5" r="0.8" fill="#373737"/><circle cx="17.8" cy="113.1" r="1.0" fill="#282828"/><circle cx="96.9" cy="15.0" r="1.2" fill="#282828"/><circle cx="20.0" cy="52.9" r="1.1" fill="#282828"/><circle cx="107.9" cy="84.5" r="0.8" fill="#454545"/><circle cx="91.5" cy="74.2" r="0.8" fill="#767676"/><circle cx="80.8" cy="119.7" r="0.8" fill="#6a6a6a"/><circle cx="68.3" cy="64.0" r="1.4" fill="#828282"/><circle cx="95.0" cy="145.4" r="1.2" fill="#6b6b6b"/><circle cx="99.9" cy="73.0" r="1.2" fill="#2e2e2e"/><circle cx="123.3" cy="62.4" r="1.4" fill="#636363"/><circle cx="60.5" cy="31.3" r="1.2" fill="#7a7a7a"/><circle cx="108.0" cy="55.1" r="0.8" fill="#7a7a7a"/><circle cx="109.2" cy="36.2" r="1.4" fill="#8d8d8d"/><circle cx="83.1" cy="94.0" r="1.0" fill="#575757"/><circle cx="26.3" cy="136.4" r="1.1" fill="#484848"/><circle cx="12.5" cy="128.6" r="0.8" fill="#6d6d6d"/><circle cx="40.5" cy="41.7" r="1.1" fill="#808080"/><circle cx="104.5" cy="11.7" r="1.2" fill="#676767"/><circle cx="73.6" cy="21.5" r="1.0" fill="#5e5e5e"/><circle cx="20.6" cy="125.7" r="0.8" fill="#4a4a4a"/><circle cx="35.5" cy="13.4" r="1.2" fill="#474747"/><circle cx="101.7" cy="149.3" r="1.0" fill="#282828"/><circle cx="108.7" cy="37.0" r="1.4" fill="#494949"/><circle cx="89.4" cy="142.5" r="1.4" fill="#494949"/><circle cx="51.7" cy="105.0" r="1.4" fill="#4c4c4c"/><circle cx="7.9" cy="108.5" r="1.0" fill="#999999"/><circle cx="104.7" cy="19.5" r="1.2" fill="#505050"/><circle cx="49.8" cy="77.4" r="1.2" fill="#5e5e5e"/><circle cx="7.0" cy="85.6" r="0.8" fill="#7d7d7d"/><circle cx="76.6" cy="88.6" r="0.8" fill="#979797"/><circle cx="51.0" cy="83.9" r="0.8" fill="#767676"/><circle cx="46.3" cy="58.9" r="1.2" fill="#343434"/><circle cx="93.3" cy="36.0" r="0.8" fill="#494949"/><circle cx="3.7" cy="6.8" r="1.0" fill="#6b6b6b"/><circle cx="6.2" cy="23.6" r="1.1" fill="#7d7d7d"/><circle cx="119.7" cy="16.6" r="1.4" fill="#313131"/><circle cx="17.3" cy="115.3" r="0.8" fill="#565656"/><circle cx="39.4" cy="107.7" r="1.2" fill="#8e8e8e"/><circle cx="97.0" cy="111.9" r="0.8" fill="#707070"/><circle cx="77.0" cy="17.4" r="1.1" fill="#2c2c2c"/><circle cx="80.8" cy="131.2" r="1.1" fill="#a4a4a4"/><circle cx="64.7" cy="157.7" r="0.8" fill="#878787"/><circle cx="80.4" cy="57.0" r="1.4" fill="#6e6e6e"/><circle cx="90.8" cy="140.5" r="0.8" fill="#545454"/><circle cx="97.8" cy="69.9" r="1.0" fill="#3d3d3d"/><circle cx="100.4" cy="26.5" r="0.8" fill="#9e9e9e"/><circle cx="91.4" cy="57.5" r="1.0" fill="#696969"/><circle cx="37.4" cy="147.4" r="0.8" fill="#909090"/><circle cx="118.6" cy="35.8" r="0.8" fill="#5b5b5b"/><circle cx="115.5" cy="18.1" r="1.4" fill="#7a7a7a"/><circle cx="69.9" cy="16.8" r="1.2" fill="#565656"/><circle cx="10.2" cy="139.0" r="1.4" fill="#5d5d5d"/><circle cx="65.7" cy="86.0" r="1.2" fill="#5a5a5a"/><circle cx="54.2" cy="127.6" r="1.0" fill="#414141"/><circle cx="47.3" cy="158.7" r="1.4" fill="#757575"/><circle cx="23.2" cy="133.3" r="1.2" fill="#2f2f2f"/><circle cx="110.3" cy="72.7" r="1.2" fill="#3e3e3e"/><circle cx="75.5" cy="20.8" r="1.1" fill="#747474"/><circle cx="23.8" cy="24.6" r="1.2" fill="#797979"/><circle cx="72.4" cy="40.8" r="1.2" fill="#4d4d4d"/><circle cx="55.3" cy="126.3" r="1.1" fill="#686868"/><circle cx="95.3" cy="155.3" r="1.2" fill="#5d5d5d"/><circle cx="38.4" cy="136.9" r="1.4" fill="#5e5e5e"/><circle cx="60.6" cy="42.7" r="1.1" fill="#646464"/><circle cx="46.4" cy="138.1" r="1.2" fill="#9b9b9b"/><circle cx="115.2" cy="40.1" r="1.4" fill="#737373"/><circle cx="118.9" cy="58.9" r="0.8" fill="#7c7c7c"/><circle cx="64.2" cy="146.3" r="1.2" fill="#878787"/><circle cx="79.3" cy="74.1" r="1.2" fill="#838383"/><circle cx="57.5" cy="153.5" r="1.1" fill="#8a8a8a"/><circle cx="21.0" cy="38.0" r="1.0" fill="#4c4c4c"/><circle cx="51.9" cy="81.3" r="1.0" fill="#282828"/><circle cx="72.4" cy="66.0" r="1.1" fill="#8e8e8e"/><circle cx="85.1" cy="108.8" r="1.2" fill="#505050"/><circle cx="12.9" cy="1.7" r="1.1" fill="#565656"/><circle cx="12.9" cy="164.7" r="1.1" fill="#565656"/><circle cx="41.0" cy="51.6" r="1.2" fill="#808080"/><circle cx="41.4" cy="13.1" r="1.4" fill="#9f9f9f"/><circle cx="61.0" cy="101.1" r="1.0" fill="#555555"/><circle cx="2.3" cy="5.0" r="1.2" fill="#696969"/><circle cx="17.8" cy="115.3" r="0.8" fill="#505050"/><circle cx="114.0" cy="158.2" r="1.2" fill="#878787"/><circle cx="81.1" cy="93.7" r="1.0" fill="#626262"/><circle cx="42.4" cy="127.3" r="1.2" fill="#444444"/><circle cx="72.2" cy="118.4" r="1.2" fill="#656565"/><circle cx="27.1" cy="59.8" r="1.1" fill="#555555"/><circle cx="107.4" cy="159.9" r="1.0" fill="#868686"/><circle cx="82.4" cy="101.8" r="1.0" fill="#494949"/><circle cx="74.4" cy="38.8" r="1.1" fill="#404040"/><circle cx="20.5" cy="66.1" r="1.2" fill="#4e4e4e"/><circle cx="93.9" cy="105.8" r="1.0" fill="#5d5d5d"/><circle cx="23.1" cy="79.0" r="0.8" fill="#343434"/><circle cx="100.5" cy="21.8" r="1.0" fill="#7c7c7c"/><circle cx="78.9" cy="74.4" r="1.0" fill="#626262"/><circle cx="94.1" cy="44.5" r="1.4" fill="#666666"/><circle cx="111.4" cy="49.7" r="1.4" fill="#5f5f5f"/><circle cx="46.4" cy="62.0" r="0.8" fill="#797979"/><circle cx="102.2" cy="143.3" r="1.2" fill="#5e5e5e"/><circle cx="115.6" cy="104.4" r="1.1" fill="#7c7c7c"/><circle cx="9.5" cy="131.7" r="1.4" fill="#848484"/><circle cx="89.8" cy="47.7" r="0.8" fill="#393939"/><circle cx="9.9" cy="148.5" r="1.0" fill="#565656"/><circle cx="74.5" cy="75.6" r="1.0" fill="#858585"/><circle cx="58.3" cy="10.2" r="1.0" fill="#393939"/><circle cx="108.4" cy="57.2" r="1.1" fill="#747474"/><circle cx="107.9" cy="25.3" r="1.0" fill="#343434"/><circle cx="3.7" cy="19.4" r="0.8" fill="#5a5a5a"/><circle cx="102.9" cy="138.8" r="1.4" fill="#6d6d6d"/><circle cx="17.2" cy="21.4" r="1.2" fill="#616161"/><circle cx="70.2" cy="3.3" r="0.8" fill="#4d4d4d"/><circle cx="43.2" cy="24.4" r="0.8" fill="#898989"/><circle cx="17.4" cy="120.3" r="1.2" fill="#373737"/><circle cx="86.0" cy="78.3" r="1.1" fill="#4e4e4e"/><circle cx="19.1" cy="120.5" r="0.8" fill="#aaaaaa"/><circle cx="104.2" cy="146.3" r="1.1" fill="#8e8e8e"/><circle cx="120.5" cy="126.5" r="1.4" fill="#404040"/><circle cx="16.4" cy="161.7" r="1.0" fill="#2d2d2d"/><circle cx="16.4" cy="-1.3" r="1.0" fill="#2d2d2d"/><circle cx="29.2" cy="54.6" r="0.8" fill="#494949"/><circle cx="111.1" cy="108.8" r="1.0" fill="#383838"/><circle cx="105.9" cy="54.5" r="1.2" fill="#7f7f7f"/><circle cx="82.9" cy="56.2" r="1.0" fill="#525252"/><circle cx="109.6" cy="20.4" r="1.2" fill="#616161"/><circle cx="18.4" cy="124.9" r="1.0" fill="#434343"/><circle cx="89.0" cy="20.2" r="1.4" fill="#404040"/><circle cx="105.9" cy="117.4" r="1.0" fill="#838383"/><circle cx="85.7" cy="11.8" r="1.1" fill="#c1c1c1"/><circle cx="16.4" cy="38.7" r="1.2" fill="#525252"/><circle cx="39.8" cy="7.8" r="0.8" fill="#414141"/><circle cx="50.0" cy="91.8" r="1.1" fill="#545454"/><circle cx="53.7" cy="7.1" r="1.0" fill="#787878"/><circle cx="121.9" cy="152.0" r="1.0" fill="#282828"/><circle cx="81.9" cy="124.5" r="1.2" fill="#a9a9a9"/><circle cx="0.9" cy="68.8" r="0.8" fill="#6f6f6f"/><circle cx="127.9" cy="68.8" r="0.8" fill="#6f6f6f"/><circle cx="0.2" cy="129.6" r="1.2" fill="#505050"/><circle cx="127.2" cy="129.6" r="1.2" fill="#505050"/><circle cx="104.0" cy="138.1" r="1.0" fill="#606060"/><circle cx="32.6" cy="37.9" r="1.4" fill="#7f7f7f"/><circle cx="120.2" cy="50.4" r="1.4" fill="#414141"/><circle cx="107.0" cy="124.9" r="1.2" fill="#787878"/><circle cx="22.0" cy="131.3" r="1.1" fill="#6d6d6d"/><circle cx="53.9" cy="112.3" r="1.4" fill="#3e3e3e"/><circle cx="9.1" cy="1.3" r="1.2" fill="#818181"/><circle cx="9.1" cy="164.3" r="1.2" fill="#818181"/><circle cx="11.4" cy="136.6" r="1.4" fill="#4a4a4a"/><circle cx="68.7" cy="85.4" r="1.1" fill="#717171"/><circle cx="103.5" cy="119.7" r="1.0" fill="#787878"/><circle cx="55.0" cy="158.4" r="1.0" fill="#282828"/><circle cx="20.6" cy="11.5" r="1.2" fill="#606060"/></pattern>
<pattern id="spC" patternUnits="userSpaceOnUse" width="173" height="149"><circle cx="41.2" cy="81.1" r="0.9" fill="#dbdbdb"/><circle cx="100.5" cy="90.2" r="1.0" fill="#acacac"/><circle cx="44.9" cy="34.9" r="1.0" fill="#999999"/><circle cx="68.7" cy="128.3" r="0.8" fill="#b4b4b4"/><circle cx="109.8" cy="129.3" r="1.0" fill="#bbbbbb"/><circle cx="11.1" cy="113.0" r="0.7" fill="#919191"/><circle cx="52.1" cy="4.6" r="0.9" fill="#8e8e8e"/><circle cx="152.0" cy="106.4" r="1.0" fill="#c6c6c6"/><circle cx="68.3" cy="119.3" r="1.0" fill="#cdcdcd"/><circle cx="63.2" cy="5.3" r="1.0" fill="#bababa"/><circle cx="37.5" cy="143.9" r="1.0" fill="#c8c8c8"/><circle cx="72.9" cy="124.2" r="0.9" fill="#838383"/><circle cx="92.4" cy="60.7" r="0.8" fill="#e3e3e3"/><circle cx="160.7" cy="127.6" r="0.8" fill="#a4a4a4"/><circle cx="120.9" cy="48.6" r="0.7" fill="#b9b9b9"/><circle cx="143.9" cy="85.5" r="0.9" fill="#a9a9a9"/><circle cx="21.5" cy="71.8" r="1.0" fill="#ebebeb"/><circle cx="71.0" cy="22.5" r="0.9" fill="#dadada"/><circle cx="73.9" cy="61.9" r="0.7" fill="#e5e5e5"/><circle cx="7.8" cy="107.0" r="0.9" fill="#c9c9c9"/><circle cx="95.3" cy="137.4" r="0.9" fill="#515151"/><circle cx="53.6" cy="11.5" r="0.7" fill="#bababa"/><circle cx="164.2" cy="144.7" r="0.9" fill="#b0b0b0"/><circle cx="7.3" cy="129.3" r="0.9" fill="#b2b2b2"/><circle cx="62.3" cy="20.6" r="1.0" fill="#929292"/><circle cx="66.8" cy="129.2" r="0.7" fill="#e8e8e8"/><circle cx="107.3" cy="140.2" r="0.9" fill="#929292"/><circle cx="41.1" cy="44.9" r="0.9" fill="#d2d2d2"/><circle cx="90.2" cy="81.7" r="0.7" fill="#d3d3d3"/><circle cx="54.5" cy="56.1" r="0.8" fill="#676767"/><circle cx="10.4" cy="93.5" r="1.0" fill="#959595"/><circle cx="105.3" cy="41.6" r="1.0" fill="#f0f0f0"/><circle cx="3.8" cy="9.0" r="0.7" fill="#d4d4d4"/><circle cx="78.9" cy="88.3" r="0.9" fill="#b8b8b8"/><circle cx="30.7" cy="27.6" r="0.9" fill="#cbcbcb"/><circle cx="136.2" cy="15.6" r="0.7" fill="#aaaaaa"/><circle cx="168.0" cy="101.9" r="0.8" fill="#b6b6b6"/><circle cx="139.1" cy="35.6" r="0.8" fill="#d1d1d1"/><circle cx="117.3" cy="96.8" r="0.7" fill="#d3d3d3"/><circle cx="57.7" cy="124.2" r="1.0" fill="#cdcdcd"/><circle cx="140.1" cy="143.1" r="0.7" fill="#a7a7a7"/><circle cx="153.1" cy="67.2" r="0.8" fill="#e3e3e3"/><circle cx="136.2" cy="5.1" r="0.8" fill="#a7a7a7"/><circle cx="99.4" cy="128.7" r="0.9" fill="#f0f0f0"/><circle cx="139.7" cy="95.6" r="0.9" fill="#a3a3a3"/><circle cx="89.7" cy="126.6" r="1.0" fill="#adadad"/><circle cx="59.9" cy="62.1" r="1.0" fill="#b6b6b6"/><circle cx="71.5" cy="29.7" r="1.0" fill="#bababa"/><circle cx="163.2" cy="131.1" r="1.0" fill="#6c6c6c"/><circle cx="124.1" cy="4.8" r="1.0" fill="#9e9e9e"/><circle cx="144.7" cy="98.8" r="0.9" fill="#818181"/><circle cx="149.0" cy="127.8" r="0.9" fill="#acacac"/><circle cx="20.8" cy="36.4" r="0.7" fill="#e3e3e3"/><circle cx="159.8" cy="133.6" r="1.0" fill="#a3a3a3"/><circle cx="99.8" cy="2.0" r="0.7" fill="#c9c9c9"/><circle cx="99.8" cy="151.0" r="0.7" fill="#c9c9c9"/><circle cx="114.7" cy="78.2" r="1.0" fill="#d4d4d4"/><circle cx="9.2" cy="136.0" r="0.7" fill="#b1b1b1"/><circle cx="149.1" cy="71.1" r="0.7" fill="#d1d1d1"/><circle cx="60.9" cy="29.4" r="0.7" fill="#d7d7d7"/><circle cx="159.5" cy="120.1" r="0.7" fill="#ececec"/><circle cx="84.3" cy="85.1" r="1.0" fill="#d4d4d4"/><circle cx="46.5" cy="78.6" r="1.0" fill="#c5c5c5"/><circle cx="8.8" cy="48.1" r="0.7" fill="#dedede"/><circle cx="8.0" cy="7.4" r="1.0" fill="#959595"/><circle cx="168.6" cy="127.3" r="0.7" fill="#9b9b9b"/><circle cx="27.2" cy="10.7" r="1.0" fill="#bababa"/><circle cx="111.9" cy="87.4" r="0.9" fill="#b5b5b5"/><circle cx="74.2" cy="19.0" r="0.7" fill="#f0f0f0"/><circle cx="123.9" cy="56.7" r="0.7" fill="#b5b5b5"/><circle cx="79.7" cy="96.9" r="1.0" fill="#bababa"/><circle cx="110.1" cy="6.5" r="1.0" fill="#e5e5e5"/><circle cx="131.5" cy="46.9" r="1.0" fill="#cbcbcb"/><circle cx="79.7" cy="36.5" r="0.9" fill="#bababa"/><circle cx="73.5" cy="63.5" r="0.7" fill="#b3b3b3"/><circle cx="162.0" cy="55.8" r="0.9" fill="#dfdfdf"/><circle cx="162.5" cy="109.0" r="1.0" fill="#dddddd"/><circle cx="115.5" cy="109.3" r="0.7" fill="#cfcfcf"/><circle cx="81.9" cy="35.2" r="1.0" fill="#919191"/><circle cx="7.7" cy="13.7" r="0.7" fill="#aeaeae"/><circle cx="141.8" cy="50.9" r="0.7" fill="#a5a5a5"/><circle cx="4.4" cy="17.1" r="1.0" fill="#e4e4e4"/><circle cx="100.2" cy="119.0" r="0.7" fill="#7e7e7e"/><circle cx="172.4" cy="84.0" r="0.8" fill="#e5e5e5"/><circle cx="-0.6" cy="84.0" r="0.8" fill="#e5e5e5"/><circle cx="161.7" cy="9.1" r="0.9" fill="#dddddd"/><circle cx="150.4" cy="26.9" r="0.7" fill="#bebebe"/><circle cx="43.2" cy="91.8" r="1.0" fill="#d0d0d0"/><circle cx="43.8" cy="89.3" r="0.9" fill="#747474"/><circle cx="64.9" cy="35.1" r="1.0" fill="#a2a2a2"/><circle cx="145.9" cy="144.1" r="1.0" fill="#ababab"/><circle cx="116.6" cy="77.0" r="1.0" fill="#8f8f8f"/><circle cx="27.0" cy="59.8" r="0.8" fill="#d0d0d0"/><circle cx="83.6" cy="104.1" r="1.0" fill="#dcdcdc"/><circle cx="101.5" cy="127.9" r="0.8" fill="#bbbbbb"/><circle cx="101.3" cy="46.9" r="0.8" fill="#d1d1d1"/><circle cx="147.3" cy="80.2" r="0.9" fill="#a2a2a2"/><circle cx="103.0" cy="87.1" r="0.9" fill="#8a8a8a"/><circle cx="153.9" cy="45.8" r="0.9" fill="#a0a0a0"/><circle cx="29.8" cy="53.7" r="0.9" fill="#c1c1c1"/><circle cx="83.5" cy="128.7" r="1.0" fill="#e0e0e0"/><circle cx="103.6" cy="69.7" r="0.7" fill="#bcbcbc"/><circle cx="83.3" cy="107.4" r="1.0" fill="#cacaca"/><circle cx="7.9" cy="135.7" r="0.8" fill="#818181"/><circle cx="112.1" cy="115.8" r="0.7" fill="#f0f0f0"/><circle cx="41.9" cy="28.3" r="0.9" fill="#aeaeae"/><circle cx="23.8" cy="92.7" r="0.7" fill="#d0d0d0"/><circle cx="149.7" cy="46.7" r="1.0" fill="#b0b0b0"/><circle cx="15.7" cy="119.0" r="0.7" fill="#ededed"/><circle cx="50.5" cy="53.1" r="0.9" fill="#dddddd"/><circle cx="1.2" cy="49.9" r="1.0" fill="#b5b5b5"/><circle cx="174.2" cy="49.9" r="1.0" fill="#b5b5b5"/><circle cx="111.5" cy="110.6" r="1.0" fill="#c6c6c6"/><circle cx="67.6" cy="81.1" r="0.7" fill="#c6c6c6"/><circle cx="74.8" cy="65.3" r="0.9" fill="#b6b6b6"/><circle cx="16.8" cy="140.3" r="0.9" fill="#b1b1b1"/><circle cx="77.9" cy="98.8" r="0.9" fill="#a4a4a4"/><circle cx="18.5" cy="140.7" r="0.9" fill="#acacac"/><circle cx="19.6" cy="73.6" r="0.9" fill="#9d9d9d"/><circle cx="10.3" cy="43.9" r="0.8" fill="#a0a0a0"/><circle cx="25.9" cy="55.2" r="1.0" fill="#979797"/><circle cx="21.3" cy="138.8" r="0.8" fill="#e3e3e3"/><circle cx="112.4" cy="62.6" r="0.9" fill="#a9a9a9"/><circle cx="112.0" cy="68.2" r="0.9" fill="#c7c7c7"/><circle cx="18.6" cy="27.0" r="1.0" fill="#909090"/><circle cx="62.1" cy="39.6" r="1.0" fill="#cdcdcd"/><circle cx="82.8" cy="40.4" r="0.9" fill="#c3c3c3"/><circle cx="151.4" cy="140.8" r="1.0" fill="#8c8c8c"/><circle cx="61.0" cy="126.2" r="0.7" fill="#b0b0b0"/><circle cx="26.2" cy="87.9" r="0.7" fill="#818181"/><circle cx="19.4" cy="104.0" r="1.0" fill="#a4a4a4"/><circle cx="115.9" cy="58.3" r="0.8" fill="#afafaf"/><circle cx="68.9" cy="28.9" r="0.8" fill="#b4b4b4"/><circle cx="98.3" cy="30.1" r="0.9" fill="#acacac"/><circle cx="145.7" cy="66.3" r="1.0" fill="#d0d0d0"/><circle cx="164.2" cy="57.1" r="0.9" fill="#868686"/><circle cx="118.8" cy="44.6" r="1.0" fill="#808080"/><circle cx="5.2" cy="28.4" r="0.7" fill="#e5e5e5"/><circle cx="40.4" cy="25.8" r="1.0" fill="#dddddd"/><circle cx="34.4" cy="116.5" r="0.8" fill="#e0e0e0"/><circle cx="111.8" cy="66.2" r="0.9" fill="#c6c6c6"/><circle cx="165.9" cy="132.9" r="0.8" fill="#b1b1b1"/><circle cx="159.8" cy="3.8" r="0.8" fill="#c0c0c0"/><circle cx="87.5" cy="74.3" r="0.7" fill="#d5d5d5"/><circle cx="150.6" cy="103.5" r="0.8" fill="#b2b2b2"/><circle cx="13.9" cy="125.0" r="0.7" fill="#b3b3b3"/><circle cx="59.4" cy="120.2" r="0.7" fill="#8d8d8d"/><circle cx="149.0" cy="65.1" r="0.8" fill="#afafaf"/><circle cx="7.4" cy="11.6" r="0.8" fill="#bfbfbf"/><circle cx="122.1" cy="58.3" r="1.0" fill="#b2b2b2"/><circle cx="73.0" cy="96.7" r="0.9" fill="#9a9a9a"/><circle cx="4.0" cy="68.2" r="1.0" fill="#9f9f9f"/><circle cx="6.4" cy="38.2" r="0.9" fill="#cacaca"/><circle cx="77.5" cy="53.9" r="1.0" fill="#bebebe"/><circle cx="36.2" cy="116.7" r="0.8" fill="#c0c0c0"/><circle cx="148.0" cy="79.5" r="0.8" fill="#c2c2c2"/><circle cx="69.8" cy="25.1" r="0.7" fill="#cfcfcf"/><circle cx="24.1" cy="90.7" r="1.0" fill="#b3b3b3"/><circle cx="3.9" cy="66.8" r="1.0" fill="#bebebe"/><circle cx="5.7" cy="106.4" r="0.8" fill="#a5a5a5"/><circle cx="4.6" cy="143.9" r="0.8" fill="#cfcfcf"/><circle cx="41.8" cy="58.0" r="0.8" fill="#d3d3d3"/><circle cx="59.9" cy="18.5" r="0.7" fill="#e2e2e2"/></pattern>
<filter id="sblur" x="0" y="0" width="100%" height="100%"><feGaussianBlur stdDeviation="0.8"/></filter>
<filter id="sblur2" x="0" y="0" width="100%" height="100%"><feGaussianBlur stdDeviation="0.55"/></filter>
</defs>
<rect x="76" y="4" width="652" height="559" fill="#090807"/>
<g filter="url(#sblur)"><rect x="76" y="4" width="652" height="559" fill="url(#spA)" opacity="1.00"/>
<rect x="76" y="4" width="652" height="559" fill="url(#spB)" opacity="0.90"/></g>
<g filter="url(#sblur2)"><rect x="76" y="4" width="652" height="559" fill="url(#spC)" opacity="0.70"/></g>
<rect x="743" y="4" width="652" height="559" fill="#090807"/>
<g filter="url(#sblur)"><rect x="743" y="4" width="652" height="559" fill="url(#spA)" opacity="0.40"/>
<rect x="743" y="4" width="652" height="559" fill="url(#spB)" opacity="0.20"/></g>
<g filter="url(#sblur2)"><rect x="743" y="4" width="652" height="559" fill="url(#spC)" opacity="0.90"/></g>
<rect x="74" y="579" width="652" height="557" fill="#090807"/>
<g filter="url(#sblur)"><rect x="74" y="579" width="652" height="557" fill="url(#spA)" opacity="0.55"/>
<rect x="74" y="579" width="652" height="557" fill="url(#spB)" opacity="0.45"/></g>
<g filter="url(#sblur2)"><rect x="74" y="579" width="652" height="557" fill="url(#spC)" opacity="0.60"/></g>
<rect x="744" y="579" width="651" height="557" fill="#090807"/>
<g filter="url(#sblur)"><rect x="744" y="579" width="651" height="557" fill="url(#spA)" opacity="0.40"/>
<rect x="744" y="579" width="651" height="557" fill="url(#spB)" opacity="0.20"/></g>
<g filter="url(#sblur2)"><rect x="744" y="579" width="651" height="557" fill="url(#spC)" opacity="0.70"/></g>
<g clip-path="url(#pall)">
<g filter="url(#glow)" opacity="0.38">
<ellipse cx="213" cy="25" rx="8" ry="8" fill="rgb(220,220,220)"/>
<ellipse cx="224.8" cy="25" rx="5.6" ry="5.6" fill="rgb(196,196,196)"/>
<ellipse cx="236.4" cy="39" rx="5.6" ry="4.8" fill="rgb(196,196,196)"/>
<ellipse cx="257.4" cy="76" rx="8.8" ry="8" fill="rgb(220,220,220)"/>
<ellipse cx="296.9" cy="63.5" rx="6.4" ry="6.4" fill="rgb(208,208,208)"/>
<ellipse cx="343.4" cy="150.5" rx="7.2" ry="8" fill="rgb(220,220,220)"/>
<ellipse cx="171.3" cy="222.6" rx="8.8" ry="7.2" fill="rgb(220,220,220)"/>
<ellipse cx="706" cy="30" rx="6.4" ry="6.4" fill="rgb(196,196,196)"/>
<ellipse cx="520" cy="262" rx="20.9" ry="17.1" fill="rgb(220,220,220)"/>
<ellipse cx="532" cy="272" rx="17.1" ry="13.3" fill="rgb(220,220,220)"/>
<ellipse cx="540" cy="280" rx="11.4" ry="9.5" fill="rgb(208,208,208)"/>
<ellipse cx="509" cy="256" rx="11.4" ry="9.5" fill="rgb(196,196,196)"/>
<ellipse cx="597" cy="316.5" rx="17.1" ry="15.2" fill="rgb(220,220,220)"/>
<ellipse cx="590" cy="312" rx="11.4" ry="9.5" fill="rgb(208,208,208)"/>
<ellipse cx="627" cy="314.2" rx="8" ry="8" fill="rgb(202,202,202)"/>
<ellipse cx="250.4" cy="388.6" rx="11.4" ry="10.45" fill="rgb(220,220,220)"/>
<ellipse cx="285.3" cy="391" rx="9.5" ry="11.4" fill="rgb(202,202,202)"/>
<ellipse cx="343.4" cy="388.6" rx="11.4" ry="11.4" fill="rgb(220,220,220)"/>
<ellipse cx="359.7" cy="391" rx="6.4" ry="8" fill="rgb(196,196,196)"/>
<ellipse cx="396.9" cy="386.3" rx="11.4" ry="12.35" fill="rgb(220,220,220)"/>
<ellipse cx="510.8" cy="458.4" rx="11.4" ry="10.45" fill="rgb(220,220,220)"/>
<ellipse cx="485.2" cy="477" rx="10.45" ry="11.4" fill="rgb(220,220,220)"/>
<ellipse cx="585.2" cy="470" rx="12.35" ry="11.4" fill="rgb(220,220,220)"/>
<ellipse cx="171.3" cy="500.2" rx="6.4" ry="8" fill="rgb(196,196,196)"/>
<ellipse cx="194.6" cy="497.9" rx="8.55" ry="11.4" fill="rgb(208,208,208)"/>
<ellipse cx="250.4" cy="511.9" rx="6.4" ry="6.4" fill="rgb(196,196,196)"/>
<ellipse cx="385.3" cy="493.3" rx="6.4" ry="7.2" fill="rgb(196,196,196)"/>
<ellipse cx="448.1" cy="502.6" rx="6.4" ry="7.2" fill="rgb(196,196,196)"/>
<ellipse cx="113.2" cy="523.5" rx="8" ry="8" fill="rgb(220,220,220)"/>
<ellipse cx="131.8" cy="539.8" rx="9.5" ry="11.4" fill="rgb(220,220,220)"/>
<ellipse cx="110.9" cy="556" rx="7.2" ry="6.4" fill="rgb(196,196,196)"/>
<ellipse cx="959" cy="81" rx="20.9" ry="19" fill="rgb(214,214,214)"/>
<ellipse cx="950" cy="76" rx="13.3" ry="11.4" fill="rgb(208,208,208)"/>
<ellipse cx="987" cy="85.4" rx="11.4" ry="9.5" fill="rgb(220,220,220)"/>
<ellipse cx="1152.2" cy="238.8" rx="8.8" ry="8" fill="rgb(220,220,220)"/>
<ellipse cx="863.3" cy="384.5" rx="11.4" ry="9.5" fill="rgb(202,202,202)"/>
<ellipse cx="926" cy="376.5" rx="15.2" ry="11.4" fill="rgb(214,214,214)"/>
<ellipse cx="945" cy="378" rx="15.2" ry="9.5" fill="rgb(208,208,208)"/>
<ellipse cx="961.3" cy="378" rx="15.2" ry="11.4" fill="rgb(220,220,220)"/>
<ellipse cx="987.2" cy="376.5" rx="11.4" ry="9.5" fill="rgb(202,202,202)"/>
<ellipse cx="1032" cy="363.8" rx="11.4" ry="10.45" fill="rgb(208,208,208)"/>
<ellipse cx="1003.7" cy="395.3" rx="11.4" ry="9.5" fill="rgb(208,208,208)"/>
<ellipse cx="1123.7" cy="461" rx="22.8" ry="24.7" fill="rgb(220,220,220)"/>
<ellipse cx="1120" cy="450" rx="15.2" ry="15.2" fill="rgb(208,208,208)"/>
<ellipse cx="1086" cy="473" rx="9.5" ry="11.4" fill="rgb(196,196,196)"/>
<ellipse cx="1149.6" cy="440" rx="8" ry="8" fill="rgb(202,202,202)"/>
<ellipse cx="1189.6" cy="440" rx="19" ry="17.1" fill="rgb(220,220,220)"/>
<ellipse cx="1173" cy="442.4" rx="13.3" ry="13.3" fill="rgb(208,208,208)"/>
<ellipse cx="1248.5" cy="435.4" rx="8" ry="6.4" fill="rgb(196,196,196)"/>
<ellipse cx="853" cy="499" rx="9.5" ry="13.3" fill="rgb(202,202,202)"/>
<ellipse cx="881.2" cy="501.3" rx="9.5" ry="13.3" fill="rgb(208,208,208)"/>
<ellipse cx="841.2" cy="522.5" rx="8.55" ry="13.3" fill="rgb(202,202,202)"/>
<ellipse cx="874.2" cy="534.2" rx="8.55" ry="13.3" fill="rgb(202,202,202)"/>
<ellipse cx="970.7" cy="494.2" rx="8" ry="8" fill="rgb(196,196,196)"/>
<ellipse cx="281" cy="612" rx="11.4" ry="15.2" fill="rgb(220,220,220)"/>
<ellipse cx="281" cy="628" rx="9.5" ry="13.3" fill="rgb(214,214,214)"/>
<ellipse cx="341.4" cy="665" rx="9.5" ry="15.2" fill="rgb(220,220,220)"/>
<ellipse cx="367" cy="683.6" rx="11.4" ry="9.5" fill="rgb(196,196,196)"/>
<ellipse cx="348.4" cy="723.2" rx="8" ry="8" fill="rgb(220,220,220)"/>
<ellipse cx="536.7" cy="797.6" rx="8" ry="8" fill="rgb(220,220,220)"/>
<ellipse cx="469.3" cy="839.4" rx="11.4" ry="11.4" fill="rgb(220,220,220)"/>
<ellipse cx="604.2" cy="613.9" rx="7.2" ry="6.4" fill="rgb(196,196,196)"/>
<ellipse cx="706.5" cy="618.5" rx="13.3" ry="13.3" fill="rgb(196,196,196)"/>
<ellipse cx="720.4" cy="583.7" rx="6.4" ry="6.4" fill="rgb(196,196,196)"/>
<ellipse cx="185.6" cy="901" rx="11.4" ry="10.45" fill="rgb(220,220,220)"/>
<ellipse cx="241.4" cy="954.7" rx="13.3" ry="9.5" fill="rgb(220,220,220)"/>
<ellipse cx="250" cy="960" rx="6.4" ry="6.4" fill="rgb(196,196,196)"/>
<ellipse cx="381" cy="950" rx="8" ry="8" fill="rgb(208,208,208)"/>
<ellipse cx="94.9" cy="1029" rx="15.2" ry="9.5" fill="rgb(220,220,220)"/>
<ellipse cx="220.5" cy="1080" rx="9.5" ry="11.4" fill="rgb(220,220,220)"/>
<ellipse cx="250.7" cy="1094" rx="7.2" ry="7.2" fill="rgb(196,196,196)"/>
<ellipse cx="277.7" cy="1085" rx="13.3" ry="15.2" fill="rgb(220,220,220)"/>
<ellipse cx="297.3" cy="1087" rx="8.8" ry="8.8" fill="rgb(220,220,220)"/>
<ellipse cx="315" cy="1082.6" rx="8.8" ry="8.8" fill="rgb(220,220,220)"/>
<ellipse cx="276.3" cy="1115" rx="6.4" ry="6.4" fill="rgb(196,196,196)"/>
<ellipse cx="353" cy="1089.5" rx="8" ry="6.4" fill="rgb(202,202,202)"/>
<ellipse cx="464.7" cy="1031.4" rx="11.4" ry="9.5" fill="rgb(220,220,220)"/>
<ellipse cx="474" cy="1036" rx="6.4" ry="6.4" fill="rgb(196,196,196)"/>
<ellipse cx="518.2" cy="1026.7" rx="8" ry="8" fill="rgb(214,214,214)"/>
<ellipse cx="515.9" cy="1059.3" rx="15.2" ry="13.3" fill="rgb(220,220,220)"/>
<ellipse cx="488" cy="1067.7" rx="8.8" ry="8.8" fill="rgb(214,214,214)"/>
<ellipse cx="562.4" cy="1052.3" rx="8" ry="6.4" fill="rgb(196,196,196)"/>
<ellipse cx="594.9" cy="1082.6" rx="8" ry="7.2" fill="rgb(202,202,202)"/>
<ellipse cx="876.3" cy="592" rx="8.8" ry="8" fill="rgb(220,220,220)"/>
<ellipse cx="871.7" cy="625.4" rx="8.8" ry="8.8" fill="rgb(208,208,208)"/>
<ellipse cx="920.4" cy="625.4" rx="8" ry="8.8" fill="rgb(208,208,208)"/>
<ellipse cx="1006.3" cy="599.9" rx="11.4" ry="11.4" fill="rgb(220,220,220)"/>
<ellipse cx="1050.5" cy="586" rx="11.4" ry="9.5" fill="rgb(208,208,208)"/>
<ellipse cx="1041.2" cy="595.3" rx="7.2" ry="6.4" fill="rgb(196,196,196)"/>
<ellipse cx="1099.2" cy="632.4" rx="8" ry="7.2" fill="rgb(208,208,208)"/>
<ellipse cx="1148" cy="671.9" rx="11.4" ry="9.5" fill="rgb(220,220,220)"/>
<ellipse cx="1254.8" cy="734.6" rx="13.3" ry="7.6" fill="rgb(220,220,220)"/>
<ellipse cx="1294.2" cy="741.5" rx="13.3" ry="7.6" fill="rgb(220,220,220)"/>
<ellipse cx="1370.9" cy="769.4" rx="13.3" ry="8.55" fill="rgb(208,208,208)"/>
<ellipse cx="1187.4" cy="797.2" rx="13.3" ry="13.3" fill="rgb(214,214,214)"/>
<ellipse cx="857.8" cy="898.8" rx="8.8" ry="8.8" fill="rgb(220,220,220)"/>
<ellipse cx="948.3" cy="935.9" rx="13.3" ry="9.5" fill="rgb(220,220,220)"/>
<ellipse cx="957.6" cy="942.9" rx="8" ry="8" fill="rgb(202,202,202)"/>
<ellipse cx="1064.4" cy="935.9" rx="11.4" ry="15.2" fill="rgb(220,220,220)"/>
<ellipse cx="1069" cy="945.2" rx="8" ry="8" fill="rgb(208,208,208)"/>
<ellipse cx="1085.3" cy="959.1" rx="6.4" ry="6.4" fill="rgb(196,196,196)"/>
<ellipse cx="832.2" cy="975.4" rx="8" ry="8" fill="rgb(208,208,208)"/>
<ellipse cx="862.4" cy="968.4" rx="7.2" ry="7.2" fill="rgb(196,196,196)"/>
<ellipse cx="751" cy="1005.5" rx="9.5" ry="11.4" fill="rgb(196,196,196)"/>
<ellipse cx="788.1" cy="1040.4" rx="11.4" ry="11.4" fill="rgb(220,220,220)"/>
<ellipse cx="785.8" cy="1031.1" rx="8" ry="8" fill="rgb(208,208,208)"/>
<ellipse cx="1194.4" cy="1010.2" rx="13.3" ry="11.4" fill="rgb(220,220,220)"/>
<ellipse cx="1252.4" cy="984.7" rx="13.3" ry="13.3" fill="rgb(220,220,220)"/>
<ellipse cx="1275.7" cy="1012.5" rx="7.2" ry="7.2" fill="rgb(196,196,196)"/>
<ellipse cx="1301.2" cy="1024.1" rx="8" ry="6.4" fill="rgb(196,196,196)"/>
<ellipse cx="936.7" cy="1056.6" rx="8" ry="8" fill="rgb(208,208,208)"/>
<ellipse cx="994.7" cy="1077.5" rx="17.1" ry="17.1" fill="rgb(220,220,220)"/>
<ellipse cx="1022.6" cy="1089.1" rx="11.4" ry="9.5" fill="rgb(208,208,208)"/>
<ellipse cx="1045.8" cy="1082.2" rx="8" ry="8" fill="rgb(202,202,202)"/>
<ellipse cx="901.9" cy="1100.7" rx="8" ry="8" fill="rgb(214,214,214)"/>
<ellipse cx="922.8" cy="1103.1" rx="11.4" ry="11.4" fill="rgb(220,220,220)"/>
<ellipse cx="1141" cy="1100.7" rx="9.5" ry="11.4" fill="rgb(208,208,208)"/>
<ellipse cx="1157.3" cy="1091.5" rx="6.4" ry="6.4" fill="rgb(196,196,196)"/>
<ellipse cx="1305.8" cy="1054.3" rx="11.4" ry="9.5" fill="rgb(220,220,220)"/>
<ellipse cx="1356.9" cy="1096.1" rx="8" ry="8" fill="rgb(196,196,196)"/>
<ellipse cx="1171.2" cy="1119.3" rx="6.4" ry="6.4" fill="rgb(196,196,196)"/>
<ellipse cx="997.1" cy="1107.7" rx="6.4" ry="8" fill="rgb(196,196,196)"/>
</g>
<g filter="url(#glow)" opacity="0.3">
<ellipse cx="968" cy="378" rx="55" ry="5" fill="rgb(170,170,170)"/>
<ellipse cx="1160" cy="448" rx="45" ry="14" fill="rgb(200,200,200)"/>
<ellipse cx="863" cy="515" rx="22" ry="20" fill="rgb(120,120,120)"/>
<ellipse cx="958" cy="85" rx="30" ry="18" fill="rgb(150,150,150)"/>
<ellipse cx="922" cy="62" rx="20" ry="6" fill="rgb(120,120,120)"/>
<ellipse cx="527" cy="270" rx="22" ry="14" fill="rgb(180,180,180)"/>
<ellipse cx="598" cy="316" rx="16" ry="12" fill="rgb(170,170,170)"/>
<ellipse cx="315" cy="388" rx="70" ry="5" fill="rgb(120,120,120)"/>
<ellipse cx="500" cy="470" rx="40" ry="18" fill="rgb(90,90,90)"/>
<ellipse cx="655" cy="620" rx="60" ry="30" fill="rgb(70,70,70)"/>
<ellipse cx="300" cy="1090" rx="60" ry="16" fill="rgb(90,90,90)"/>
<ellipse cx="520" cy="1045" rx="50" ry="30" fill="rgb(120,120,120)"/>
<ellipse cx="90" cy="1035" rx="25" ry="14" fill="rgb(120,120,120)"/>
<ellipse cx="1000" cy="1085" rx="50" ry="18" fill="rgb(90,90,90)"/>
<ellipse cx="1280" cy="745" rx="40" ry="10" fill="rgb(110,110,110)"/>
<ellipse cx="1070" cy="600" rx="40" ry="14" fill="rgb(110,110,110)"/>
<ellipse cx="1230" cy="990" rx="40" ry="20" fill="rgb(110,110,110)"/>
<ellipse cx="280" cy="618" rx="12" ry="22" fill="rgb(120,120,120)"/>
</g>
<g filter="url(#blur)">
<ellipse cx="213" cy="25" rx="5.25" ry="5.25" fill="rgb(255,255,255)"/>
<ellipse cx="224.8" cy="25" rx="3.675" ry="3.675" fill="rgb(226,226,226)"/>
<ellipse cx="236.4" cy="39" rx="3.675" ry="3.15" fill="rgb(226,226,226)"/>
<ellipse cx="250" cy="32" rx="3.15" ry="3.15" fill="rgb(182,182,182)"/>
<ellipse cx="257.4" cy="76" rx="5.775" ry="5.25" fill="rgb(255,255,255)"/>
<ellipse cx="296.9" cy="63.5" rx="4.2" ry="4.2" fill="rgb(240,240,240)"/>
<ellipse cx="266.7" cy="64.5" rx="3.15" ry="3.15" fill="rgb(182,182,182)"/>
<ellipse cx="310.8" cy="101.7" rx="3.675" ry="3.675" fill="rgb(211,211,211)"/>
<ellipse cx="317.8" cy="118" rx="3.15" ry="3.15" fill="rgb(182,182,182)"/>
<ellipse cx="334.1" cy="134.2" rx="3.15" ry="3.15" fill="rgb(211,211,211)"/>
<ellipse cx="343.4" cy="150.5" rx="4.725" ry="5.25" fill="rgb(255,255,255)"/>
<ellipse cx="171.3" cy="222.6" rx="5.775" ry="4.725" fill="rgb(255,255,255)"/>
<ellipse cx="108.6" cy="288" rx="3.675" ry="3.675" fill="rgb(211,211,211)"/>
<ellipse cx="706" cy="30" rx="4.2" ry="4.2" fill="rgb(226,226,226)"/>
<ellipse cx="520" cy="262" rx="11.55" ry="9.45" fill="rgb(255,255,255)"/>
<ellipse cx="532" cy="272" rx="9.45" ry="7.35" fill="rgb(255,255,255)"/>
<ellipse cx="540" cy="280" rx="6.3" ry="5.25" fill="rgb(240,240,240)"/>
<ellipse cx="509" cy="256" rx="6.3" ry="5.25" fill="rgb(226,226,226)"/>
<ellipse cx="597" cy="316.5" rx="9.45" ry="8.4" fill="rgb(255,255,255)"/>
<ellipse cx="590" cy="312" rx="6.3" ry="5.25" fill="rgb(240,240,240)"/>
<ellipse cx="627" cy="314.2" rx="5.25" ry="5.25" fill="rgb(233,233,233)"/>
<ellipse cx="476" cy="307" rx="5.25" ry="4.2" fill="rgb(211,211,211)"/>
<ellipse cx="355" cy="316.5" rx="3.15" ry="3.15" fill="rgb(182,182,182)"/>
<ellipse cx="452.7" cy="356" rx="3.675" ry="3.675" fill="rgb(197,197,197)"/>
<ellipse cx="250.4" cy="388.6" rx="6.3" ry="5.775" fill="rgb(255,255,255)"/>
<ellipse cx="285.3" cy="391" rx="5.25" ry="6.3" fill="rgb(233,233,233)"/>
<ellipse cx="187.6" cy="386.3" rx="4.2" ry="3.675" fill="rgb(197,197,197)"/>
<ellipse cx="343.4" cy="388.6" rx="6.3" ry="6.3" fill="rgb(255,255,255)"/>
<ellipse cx="359.7" cy="391" rx="4.2" ry="5.25" fill="rgb(226,226,226)"/>
<ellipse cx="396.9" cy="386.3" rx="6.3" ry="6.825" fill="rgb(255,255,255)"/>
<ellipse cx="372" cy="386" rx="3.15" ry="3.15" fill="rgb(182,182,182)"/>
<ellipse cx="522.5" cy="437.4" rx="4.2" ry="3.675" fill="rgb(211,211,211)"/>
<ellipse cx="510.8" cy="458.4" rx="6.3" ry="5.775" fill="rgb(255,255,255)"/>
<ellipse cx="485.2" cy="477" rx="5.775" ry="6.3" fill="rgb(255,255,255)"/>
<ellipse cx="585.2" cy="470" rx="6.825" ry="6.3" fill="rgb(255,255,255)"/>
<ellipse cx="557.3" cy="451.4" rx="4.2" ry="3.675" fill="rgb(197,197,197)"/>
<ellipse cx="466.6" cy="435.1" rx="3.675" ry="3.675" fill="rgb(182,182,182)"/>
<ellipse cx="692.2" cy="418.8" rx="3.675" ry="4.2" fill="rgb(211,211,211)"/>
<ellipse cx="171.3" cy="500.2" rx="4.2" ry="5.25" fill="rgb(226,226,226)"/>
<ellipse cx="194.6" cy="497.9" rx="4.725" ry="6.3" fill="rgb(240,240,240)"/>
<ellipse cx="203.9" cy="511.9" rx="3.675" ry="3.675" fill="rgb(211,211,211)"/>
<ellipse cx="250.4" cy="511.9" rx="4.2" ry="4.2" fill="rgb(226,226,226)"/>
<ellipse cx="369" cy="504.9" rx="3.675" ry="4.2" fill="rgb(211,211,211)"/>
<ellipse cx="385.3" cy="493.3" rx="4.2" ry="4.725" fill="rgb(226,226,226)"/>
<ellipse cx="424.8" cy="488.6" rx="3.675" ry="4.2" fill="rgb(211,211,211)"/>
<ellipse cx="448.1" cy="502.6" rx="4.2" ry="4.725" fill="rgb(226,226,226)"/>
<ellipse cx="113.2" cy="523.5" rx="5.25" ry="5.25" fill="rgb(255,255,255)"/>
<ellipse cx="131.8" cy="539.8" rx="5.25" ry="6.3" fill="rgb(255,255,255)"/>
<ellipse cx="110.9" cy="556" rx="4.725" ry="4.2" fill="rgb(226,226,226)"/>
<ellipse cx="148.1" cy="556" rx="3.675" ry="3.675" fill="rgb(211,211,211)"/>
<ellipse cx="100" cy="545" rx="3.15" ry="3.15" fill="rgb(182,182,182)"/>
<ellipse cx="959" cy="81" rx="11.55" ry="10.5" fill="rgb(247,247,247)"/>
<ellipse cx="950" cy="76" rx="7.35" ry="6.3" fill="rgb(240,240,240)"/>
<ellipse cx="987" cy="85.4" rx="6.3" ry="5.25" fill="rgb(255,255,255)"/>
<ellipse cx="924.4" cy="62" rx="9.45" ry="4.725" fill="rgb(197,197,197)"/>
<ellipse cx="894" cy="57.5" rx="5.25" ry="4.2" fill="rgb(189,189,189)"/>
<ellipse cx="968.5" cy="48" rx="3.675" ry="3.675" fill="rgb(189,189,189)"/>
<ellipse cx="984.8" cy="104" rx="3.675" ry="3.675" fill="rgb(197,197,197)"/>
<ellipse cx="994" cy="115.6" rx="3.675" ry="3.675" fill="rgb(197,197,197)"/>
<ellipse cx="987" cy="129.6" rx="3.675" ry="3.675" fill="rgb(189,189,189)"/>
<ellipse cx="1005.8" cy="155" rx="3.675" ry="3.675" fill="rgb(197,197,197)"/>
<ellipse cx="1152.2" cy="238.8" rx="5.775" ry="5.25" fill="rgb(255,255,255)"/>
<ellipse cx="1156.9" cy="255" rx="4.2" ry="4.2" fill="rgb(197,197,197)"/>
<ellipse cx="1175.5" cy="269" rx="4.2" ry="4.2" fill="rgb(211,211,211)"/>
<ellipse cx="750" cy="192.3" rx="3.675" ry="3.15" fill="rgb(182,182,182)"/>
<ellipse cx="833.7" cy="259.8" rx="3.675" ry="3.675" fill="rgb(189,189,189)"/>
<ellipse cx="861.6" cy="245.8" rx="3.15" ry="3.15" fill="rgb(168,168,168)"/>
<ellipse cx="863.3" cy="384.5" rx="6.3" ry="5.25" fill="rgb(233,233,233)"/>
<ellipse cx="926" cy="376.5" rx="8.4" ry="6.3" fill="rgb(247,247,247)"/>
<ellipse cx="945" cy="378" rx="8.4" ry="5.25" fill="rgb(240,240,240)"/>
<ellipse cx="961.3" cy="378" rx="8.4" ry="6.3" fill="rgb(255,255,255)"/>
<ellipse cx="933" cy="363.8" rx="3.675" ry="4.725" fill="rgb(211,211,211)"/>
<ellipse cx="987.2" cy="376.5" rx="6.3" ry="5.25" fill="rgb(233,233,233)"/>
<ellipse cx="1005" cy="378" rx="5.25" ry="3.15" fill="rgb(197,197,197)"/>
<ellipse cx="1032" cy="363.8" rx="6.3" ry="5.775" fill="rgb(240,240,240)"/>
<ellipse cx="1003.7" cy="395.3" rx="6.3" ry="5.25" fill="rgb(240,240,240)"/>
<ellipse cx="1057.8" cy="386" rx="4.2" ry="4.2" fill="rgb(182,182,182)"/>
<ellipse cx="1123.7" cy="461" rx="12.6" ry="13.65" fill="rgb(255,255,255)"/>
<ellipse cx="1120" cy="450" rx="8.4" ry="8.4" fill="rgb(240,240,240)"/>
<ellipse cx="1086" cy="473" rx="5.25" ry="6.3" fill="rgb(226,226,226)"/>
<ellipse cx="1149.6" cy="440" rx="5.25" ry="5.25" fill="rgb(233,233,233)"/>
<ellipse cx="1189.6" cy="440" rx="10.5" ry="9.45" fill="rgb(255,255,255)"/>
<ellipse cx="1173" cy="442.4" rx="7.35" ry="7.35" fill="rgb(240,240,240)"/>
<ellipse cx="1205" cy="445" rx="6.3" ry="6.3" fill="rgb(211,211,211)"/>
<ellipse cx="1248.5" cy="435.4" rx="5.25" ry="4.2" fill="rgb(226,226,226)"/>
<ellipse cx="1053" cy="456.5" rx="4.2" ry="4.2" fill="rgb(197,197,197)"/>
<ellipse cx="853" cy="499" rx="5.25" ry="7.35" fill="rgb(233,233,233)"/>
<ellipse cx="881.2" cy="501.3" rx="5.25" ry="7.35" fill="rgb(240,240,240)"/>
<ellipse cx="841.2" cy="522.5" rx="4.725" ry="7.35" fill="rgb(233,233,233)"/>
<ellipse cx="874.2" cy="534.2" rx="4.725" ry="7.35" fill="rgb(233,233,233)"/>
<ellipse cx="868" cy="515" rx="4.2" ry="4.2" fill="rgb(197,197,197)"/>
<ellipse cx="789.4" cy="510.7" rx="4.2" ry="4.2" fill="rgb(197,197,197)"/>
<ellipse cx="970.7" cy="494.2" rx="5.25" ry="5.25" fill="rgb(226,226,226)"/>
<ellipse cx="980" cy="520" rx="3.15" ry="3.15" fill="rgb(182,182,182)"/>
<ellipse cx="1196.7" cy="306" rx="3.675" ry="3.675" fill="rgb(182,182,182)"/>
<ellipse cx="998" cy="320" rx="3.15" ry="3.15" fill="rgb(168,168,168)"/>
<ellipse cx="984.8" cy="341.2" rx="3.15" ry="3.15" fill="rgb(168,168,168)"/>
<ellipse cx="281" cy="612" rx="6.3" ry="8.4" fill="rgb(255,255,255)"/>
<ellipse cx="281" cy="628" rx="5.25" ry="7.35" fill="rgb(247,247,247)"/>
<ellipse cx="341.4" cy="665" rx="5.25" ry="8.4" fill="rgb(255,255,255)"/>
<ellipse cx="367" cy="683.6" rx="6.3" ry="5.25" fill="rgb(226,226,226)"/>
<ellipse cx="348.4" cy="723.2" rx="5.25" ry="5.25" fill="rgb(255,255,255)"/>
<ellipse cx="297.2" cy="655.7" rx="4.2" ry="3.675" fill="rgb(197,197,197)"/>
<ellipse cx="236.8" cy="655.7" rx="3.675" ry="3.15" fill="rgb(182,182,182)"/>
<ellipse cx="185.6" cy="679" rx="4.2" ry="3.675" fill="rgb(211,211,211)"/>
<ellipse cx="194.9" cy="669.7" rx="3.675" ry="3.15" fill="rgb(197,197,197)"/>
<ellipse cx="362.3" cy="704.6" rx="3.675" ry="3.675" fill="rgb(182,182,182)"/>
<ellipse cx="439" cy="727.8" rx="3.675" ry="3.675" fill="rgb(197,197,197)"/>
<ellipse cx="446" cy="760.4" rx="4.2" ry="4.2" fill="rgb(197,197,197)"/>
<ellipse cx="460" cy="741.8" rx="3.15" ry="3.15" fill="rgb(182,182,182)"/>
<ellipse cx="315.8" cy="741.8" rx="3.675" ry="3.675" fill="rgb(182,182,182)"/>
<ellipse cx="383.3" cy="734.8" rx="3.675" ry="3.675" fill="rgb(189,189,189)"/>
<ellipse cx="532" cy="697.6" rx="4.2" ry="4.2" fill="rgb(189,189,189)"/>
<ellipse cx="539" cy="727.8" rx="3.675" ry="3.675" fill="rgb(197,197,197)"/>
<ellipse cx="536.7" cy="797.6" rx="5.25" ry="5.25" fill="rgb(255,255,255)"/>
<ellipse cx="469.3" cy="839.4" rx="6.3" ry="6.3" fill="rgb(255,255,255)"/>
<ellipse cx="504.2" cy="627.8" rx="3.675" ry="3.675" fill="rgb(189,189,189)"/>
<ellipse cx="527.4" cy="646.4" rx="3.675" ry="3.675" fill="rgb(182,182,182)"/>
<ellipse cx="604.2" cy="613.9" rx="4.725" ry="4.2" fill="rgb(226,226,226)"/>
<ellipse cx="706.5" cy="618.5" rx="7.35" ry="7.35" fill="rgb(226,226,226)"/>
<ellipse cx="720.4" cy="583.7" rx="4.2" ry="4.2" fill="rgb(226,226,226)"/>
<ellipse cx="92.6" cy="762.7" rx="4.2" ry="3.675" fill="rgb(197,197,197)"/>
<ellipse cx="115.9" cy="792.9" rx="3.675" ry="3.675" fill="rgb(189,189,189)"/>
<ellipse cx="155.4" cy="816.2" rx="3.675" ry="3.675" fill="rgb(182,182,182)"/>
<ellipse cx="311.2" cy="581.3" rx="4.2" ry="3.15" fill="rgb(211,211,211)"/>
<ellipse cx="606.5" cy="830.1" rx="3.675" ry="3.675" fill="rgb(182,182,182)"/>
<ellipse cx="185.6" cy="901" rx="6.3" ry="5.775" fill="rgb(255,255,255)"/>
<ellipse cx="115.9" cy="894.2" rx="4.2" ry="4.2" fill="rgb(197,197,197)"/>
<ellipse cx="204.2" cy="880.2" rx="5.25" ry="4.2" fill="rgb(211,211,211)"/>
<ellipse cx="164.7" cy="868.6" rx="3.675" ry="3.675" fill="rgb(182,182,182)"/>
<ellipse cx="241.4" cy="954.7" rx="7.35" ry="5.25" fill="rgb(255,255,255)"/>
<ellipse cx="250" cy="960" rx="4.2" ry="4.2" fill="rgb(226,226,226)"/>
<ellipse cx="276.3" cy="977.9" rx="4.2" ry="5.25" fill="rgb(218,218,218)"/>
<ellipse cx="353" cy="968.6" rx="4.2" ry="5.25" fill="rgb(211,211,211)"/>
<ellipse cx="381" cy="950" rx="5.25" ry="5.25" fill="rgb(240,240,240)"/>
<ellipse cx="378.7" cy="975.6" rx="3.675" ry="4.2" fill="rgb(197,197,197)"/>
<ellipse cx="146.1" cy="954.7" rx="4.2" ry="3.675" fill="rgb(197,197,197)"/>
<ellipse cx="94.9" cy="1029" rx="8.4" ry="5.25" fill="rgb(255,255,255)"/>
<ellipse cx="83.3" cy="1024.4" rx="4.2" ry="4.2" fill="rgb(211,211,211)"/>
<ellipse cx="106.6" cy="1050" rx="4.2" ry="3.675" fill="rgb(211,211,211)"/>
<ellipse cx="120.5" cy="1078" rx="3.675" ry="3.675" fill="rgb(197,197,197)"/>
<ellipse cx="143.8" cy="1081" rx="4.2" ry="4.2" fill="rgb(218,218,218)"/>
<ellipse cx="164.7" cy="1085" rx="6.3" ry="3.675" fill="rgb(218,218,218)"/>
<ellipse cx="220.5" cy="1080" rx="5.25" ry="6.3" fill="rgb(255,255,255)"/>
<ellipse cx="250.7" cy="1094" rx="4.725" ry="4.725" fill="rgb(226,226,226)"/>
<ellipse cx="277.7" cy="1085" rx="7.35" ry="8.4" fill="rgb(255,255,255)"/>
<ellipse cx="297.3" cy="1087" rx="5.775" ry="5.775" fill="rgb(255,255,255)"/>
<ellipse cx="315" cy="1082.6" rx="5.775" ry="5.775" fill="rgb(255,255,255)"/>
<ellipse cx="276.3" cy="1115" rx="4.2" ry="4.2" fill="rgb(226,226,226)"/>
<ellipse cx="297.3" cy="1124.4" rx="4.2" ry="4.2" fill="rgb(211,211,211)"/>
<ellipse cx="315.9" cy="1103.5" rx="3.675" ry="3.675" fill="rgb(197,197,197)"/>
<ellipse cx="353" cy="1089.5" rx="5.25" ry="4.2" fill="rgb(233,233,233)"/>
<ellipse cx="371.7" cy="1078" rx="4.2" ry="4.2" fill="rgb(211,211,211)"/>
<ellipse cx="383.3" cy="1078" rx="5.25" ry="3.15" fill="rgb(211,211,211)"/>
<ellipse cx="390.3" cy="1105.8" rx="4.2" ry="4.2" fill="rgb(211,211,211)"/>
<ellipse cx="411.2" cy="1054.7" rx="4.2" ry="4.2" fill="rgb(211,211,211)"/>
<ellipse cx="413.5" cy="1082.6" rx="3.675" ry="3.675" fill="rgb(197,197,197)"/>
<ellipse cx="464.7" cy="1031.4" rx="6.3" ry="5.25" fill="rgb(255,255,255)"/>
<ellipse cx="474" cy="1036" rx="4.2" ry="4.2" fill="rgb(226,226,226)"/>
<ellipse cx="488" cy="1019.8" rx="4.2" ry="4.2" fill="rgb(211,211,211)"/>
<ellipse cx="518.2" cy="1026.7" rx="5.25" ry="5.25" fill="rgb(247,247,247)"/>
<ellipse cx="515.9" cy="1059.3" rx="8.4" ry="7.35" fill="rgb(255,255,255)"/>
<ellipse cx="488" cy="1067.7" rx="5.775" ry="5.775" fill="rgb(247,247,247)"/>
<ellipse cx="539.1" cy="1050" rx="4.2" ry="4.2" fill="rgb(211,211,211)"/>
<ellipse cx="562.4" cy="1052.3" rx="5.25" ry="4.2" fill="rgb(226,226,226)"/>
<ellipse cx="581" cy="1054.7" rx="4.2" ry="4.2" fill="rgb(211,211,211)"/>
<ellipse cx="576.3" cy="1082.6" rx="5.25" ry="3.15" fill="rgb(211,211,211)"/>
<ellipse cx="594.9" cy="1082.6" rx="5.25" ry="4.725" fill="rgb(233,233,233)"/>
<ellipse cx="567" cy="1101.2" rx="3.675" ry="3.675" fill="rgb(197,197,197)"/>
<ellipse cx="608.9" cy="1108.1" rx="3.675" ry="3.675" fill="rgb(197,197,197)"/>
<ellipse cx="639.1" cy="1105.8" rx="3.675" ry="3.675" fill="rgb(197,197,197)"/>
<ellipse cx="678.7" cy="1108.1" rx="4.2" ry="4.2" fill="rgb(197,197,197)"/>
<ellipse cx="488" cy="1119.8" rx="4.2" ry="4.2" fill="rgb(211,211,211)"/>
<ellipse cx="446.1" cy="1129.1" rx="3.675" ry="3.675" fill="rgb(197,197,197)"/>
<ellipse cx="522.8" cy="1087.2" rx="4.2" ry="4.2" fill="rgb(197,197,197)"/>
<ellipse cx="348.4" cy="1129.1" rx="3.675" ry="3.675" fill="rgb(197,197,197)"/>
<ellipse cx="520.5" cy="1124.4" rx="3.675" ry="3.675" fill="rgb(197,197,197)"/>
<ellipse cx="208.9" cy="1043" rx="3.15" ry="3.15" fill="rgb(175,175,175)"/>
<ellipse cx="640" cy="1075" rx="3.675" ry="3.675" fill="rgb(182,182,182)"/>
<ellipse cx="700" cy="1090" rx="3.15" ry="3.15" fill="rgb(182,182,182)"/>
<ellipse cx="876.3" cy="592" rx="5.775" ry="5.25" fill="rgb(255,255,255)"/>
<ellipse cx="843.8" cy="584.6" rx="4.2" ry="3.675" fill="rgb(197,197,197)"/>
<ellipse cx="871.7" cy="625.4" rx="5.775" ry="5.775" fill="rgb(240,240,240)"/>
<ellipse cx="920.4" cy="625.4" rx="5.25" ry="5.775" fill="rgb(240,240,240)"/>
<ellipse cx="813.7" cy="611.5" rx="4.2" ry="3.675" fill="rgb(182,182,182)"/>
<ellipse cx="1006.3" cy="599.9" rx="6.3" ry="6.3" fill="rgb(255,255,255)"/>
<ellipse cx="1050.5" cy="586" rx="6.3" ry="5.25" fill="rgb(240,240,240)"/>
<ellipse cx="1041.2" cy="595.3" rx="4.725" ry="4.2" fill="rgb(226,226,226)"/>
<ellipse cx="1059.7" cy="632.4" rx="4.2" ry="4.2" fill="rgb(211,211,211)"/>
<ellipse cx="1099.2" cy="632.4" rx="5.25" ry="4.725" fill="rgb(240,240,240)"/>
<ellipse cx="973.8" cy="667.2" rx="4.2" ry="3.675" fill="rgb(197,197,197)"/>
<ellipse cx="1022.6" cy="678.8" rx="4.725" ry="3.675" fill="rgb(211,211,211)"/>
<ellipse cx="1134" cy="667.2" rx="4.2" ry="4.2" fill="rgb(211,211,211)"/>
<ellipse cx="1148" cy="671.9" rx="6.3" ry="5.25" fill="rgb(255,255,255)"/>
<ellipse cx="1189.8" cy="662.6" rx="4.2" ry="4.2" fill="rgb(197,197,197)"/>
<ellipse cx="1238.5" cy="611.5" rx="3.675" ry="3.675" fill="rgb(182,182,182)"/>
<ellipse cx="1282.6" cy="602.2" rx="4.2" ry="3.675" fill="rgb(197,197,197)"/>
<ellipse cx="1220" cy="697.4" rx="4.2" ry="3.675" fill="rgb(197,197,197)"/>
<ellipse cx="1231.6" cy="690.4" rx="4.2" ry="3.675" fill="rgb(197,197,197)"/>
<ellipse cx="1254.8" cy="734.6" rx="7.35" ry="4.2" fill="rgb(255,255,255)"/>
<ellipse cx="1294.2" cy="741.5" rx="7.35" ry="4.2" fill="rgb(255,255,255)"/>
<ellipse cx="1370.9" cy="769.4" rx="7.35" ry="4.725" fill="rgb(240,240,240)"/>
<ellipse cx="1187.4" cy="797.2" rx="7.35" ry="7.35" fill="rgb(247,247,247)"/>
<ellipse cx="1329" cy="790.3" rx="3.675" ry="3.675" fill="rgb(182,182,182)"/>
<ellipse cx="1166.5" cy="692.8" rx="3.675" ry="3.675" fill="rgb(182,182,182)"/>
<ellipse cx="797.4" cy="783.3" rx="3.675" ry="3.675" fill="rgb(175,175,175)"/>
<ellipse cx="758" cy="832" rx="3.675" ry="3.675" fill="rgb(175,175,175)"/>
<ellipse cx="883.3" cy="848.3" rx="3.675" ry="3.675" fill="rgb(182,182,182)"/>
<ellipse cx="1285" cy="651" rx="3.675" ry="3.675" fill="rgb(182,182,182)"/>
<ellipse cx="797.4" cy="875.5" rx="3.675" ry="3.675" fill="rgb(197,197,197)"/>
<ellipse cx="827.6" cy="890.9" rx="4.2" ry="3.675" fill="rgb(197,197,197)"/>
<ellipse cx="857.8" cy="898.8" rx="5.775" ry="5.775" fill="rgb(255,255,255)"/>
<ellipse cx="881" cy="889.5" rx="4.2" ry="3.675" fill="rgb(197,197,197)"/>
<ellipse cx="948.3" cy="935.9" rx="7.35" ry="5.25" fill="rgb(255,255,255)"/>
<ellipse cx="957.6" cy="942.9" rx="5.25" ry="5.25" fill="rgb(233,233,233)"/>
<ellipse cx="1064.4" cy="935.9" rx="6.3" ry="8.4" fill="rgb(255,255,255)"/>
<ellipse cx="1069" cy="945.2" rx="5.25" ry="5.25" fill="rgb(240,240,240)"/>
<ellipse cx="1085.3" cy="959.1" rx="4.2" ry="4.2" fill="rgb(226,226,226)"/>
<ellipse cx="1110.8" cy="949.8" rx="4.2" ry="4.2" fill="rgb(197,197,197)"/>
<ellipse cx="832.2" cy="975.4" rx="5.25" ry="5.25" fill="rgb(240,240,240)"/>
<ellipse cx="862.4" cy="968.4" rx="4.725" ry="4.725" fill="rgb(226,226,226)"/>
<ellipse cx="751" cy="1005.5" rx="5.25" ry="6.3" fill="rgb(226,226,226)"/>
<ellipse cx="788.1" cy="1040.4" rx="6.3" ry="6.3" fill="rgb(255,255,255)"/>
<ellipse cx="785.8" cy="1031.1" rx="5.25" ry="5.25" fill="rgb(240,240,240)"/>
<ellipse cx="767.2" cy="1040.4" rx="4.2" ry="4.2" fill="rgb(211,211,211)"/>
<ellipse cx="1194.4" cy="1010.2" rx="7.35" ry="6.3" fill="rgb(255,255,255)"/>
<ellipse cx="1252.4" cy="984.7" rx="7.35" ry="7.35" fill="rgb(255,255,255)"/>
<ellipse cx="1275.7" cy="1012.5" rx="4.725" ry="4.725" fill="rgb(226,226,226)"/>
<ellipse cx="1264" cy="1026.4" rx="4.2" ry="4.2" fill="rgb(197,197,197)"/>
<ellipse cx="1301.2" cy="1024.1" rx="5.25" ry="4.2" fill="rgb(226,226,226)"/>
<ellipse cx="1361.6" cy="961.4" rx="4.725" ry="4.725" fill="rgb(197,197,197)"/>
<ellipse cx="1338.4" cy="942.9" rx="4.2" ry="4.2" fill="rgb(197,197,197)"/>
<ellipse cx="936.7" cy="1056.6" rx="5.25" ry="5.25" fill="rgb(240,240,240)"/>
<ellipse cx="994.7" cy="1077.5" rx="9.45" ry="9.45" fill="rgb(255,255,255)"/>
<ellipse cx="1022.6" cy="1089.1" rx="6.3" ry="5.25" fill="rgb(240,240,240)"/>
<ellipse cx="1045.8" cy="1082.2" rx="5.25" ry="5.25" fill="rgb(233,233,233)"/>
<ellipse cx="1078.3" cy="1068.2" rx="5.25" ry="4.2" fill="rgb(211,211,211)"/>
<ellipse cx="1106.2" cy="1068.2" rx="5.25" ry="4.2" fill="rgb(211,211,211)"/>
<ellipse cx="901.9" cy="1100.7" rx="5.25" ry="5.25" fill="rgb(247,247,247)"/>
<ellipse cx="922.8" cy="1103.1" rx="6.3" ry="6.3" fill="rgb(255,255,255)"/>
<ellipse cx="1141" cy="1100.7" rx="5.25" ry="6.3" fill="rgb(240,240,240)"/>
<ellipse cx="1157.3" cy="1091.5" rx="4.2" ry="4.2" fill="rgb(226,226,226)"/>
<ellipse cx="1217.6" cy="1079.8" rx="4.2" ry="4.2" fill="rgb(211,211,211)"/>
<ellipse cx="1268.7" cy="1059" rx="4.2" ry="4.2" fill="rgb(211,211,211)"/>
<ellipse cx="1305.8" cy="1054.3" rx="6.3" ry="5.25" fill="rgb(255,255,255)"/>
<ellipse cx="1338.4" cy="1065.9" rx="5.25" ry="5.25" fill="rgb(211,211,211)"/>
<ellipse cx="1278" cy="1082.2" rx="4.2" ry="4.2" fill="rgb(197,197,197)"/>
<ellipse cx="1356.9" cy="1096.1" rx="5.25" ry="5.25" fill="rgb(226,226,226)"/>
<ellipse cx="1229.2" cy="1112.4" rx="4.2" ry="4.2" fill="rgb(211,211,211)"/>
<ellipse cx="1171.2" cy="1119.3" rx="4.2" ry="4.2" fill="rgb(226,226,226)"/>
<ellipse cx="1268.7" cy="1114.7" rx="4.2" ry="4.2" fill="rgb(197,197,197)"/>
<ellipse cx="1324.4" cy="1114.7" rx="4.2" ry="4.2" fill="rgb(197,197,197)"/>
<ellipse cx="997.1" cy="1107.7" rx="4.2" ry="5.25" fill="rgb(226,226,226)"/>
<ellipse cx="1031.9" cy="1119.3" rx="4.2" ry="4.2" fill="rgb(197,197,197)"/>
</g>
</g>
<g fill="none" stroke="#fbf300" stroke-opacity="0.66" stroke-width="4.3" stroke-dasharray="37 18.5" stroke-linejoin="miter">
<path d="M183.0,3.0 C191.8,14.2 221.3,52.7 236.0,70.0 C250.7,87.3 259.2,95.0 271.0,107.0 C282.8,119.0 294.5,130.7 307.0,142.0 C319.5,153.3 332.7,164.5 346.0,175.0 C359.3,185.5 372.8,195.7 387.0,205.0 C401.2,214.3 416.2,222.8 431.0,231.0 C445.8,239.2 461.3,245.5 476.0,254.0 C490.7,262.5 505.8,271.3 519.0,282.0 C532.2,292.7 542.2,307.5 555.0,318.0 C567.8,328.5 581.3,337.5 596.0,345.0 C610.7,352.5 626.8,358.2 643.0,363.0 C659.2,367.8 677.5,371.3 693.0,374.0 C708.5,376.7 728.8,378.2 736.0,379.0"/>
<path d="M76.0,100.0 C79.3,102.5 88.7,109.8 96.0,115.0 C103.3,120.2 108.7,123.2 120.0,131.0 C131.3,138.8 149.2,151.8 164.0,162.0 C178.8,172.2 194.0,181.8 209.0,192.0 C224.0,202.2 239.3,212.5 254.0,223.0 C268.7,233.5 282.3,244.5 297.0,255.0 C311.7,265.5 328.2,276.8 342.0,286.0 C355.8,295.2 364.5,300.8 380.0,310.0 C395.5,319.2 421.5,334.0 435.0,341.0 C448.5,348.0 452.0,349.0 461.0,352.0 C470.0,355.0 484.3,357.8 489.0,359.0"/>
<path d="M489.0,359.0 C484.8,361.3 471.0,369.3 464.0,373.0 C457.0,376.7 455.5,377.2 447.0,381.0 C438.5,384.8 424.2,391.9 413.0,396.0 C401.8,400.1 390.5,403.5 380.0,405.5 C369.5,407.5 363.3,407.6 350.0,408.0 C336.7,408.4 345.7,408.0 300.0,408.0 C254.3,408.0 113.3,408.0 76.0,408.0"/>
<path d="M79.0,485.6 C92.2,484.7 131.6,480.0 158.0,480.0 C184.4,480.0 209.3,483.8 237.5,485.6 C265.7,487.4 300.6,491.4 327.0,491.0 C353.4,490.6 374.3,487.7 396.0,483.0 C417.7,478.3 439.8,470.8 457.0,463.0 C474.2,455.2 489.3,442.0 499.0,436.0 C508.7,430.0 509.6,429.0 515.0,427.0 C520.4,425.0 526.2,423.9 531.5,424.2 C536.8,424.5 537.1,424.5 547.0,428.6 C556.9,432.7 576.0,442.8 591.0,449.0 C606.0,455.2 620.8,461.5 637.0,466.0 C653.2,470.5 672.8,473.9 688.0,476.0 C703.2,478.1 721.3,478.2 728.0,478.6"/>
<path d="M832.0,0.0 C837.5,6.8 856.0,30.0 865.0,41.0 C874.0,52.0 876.7,55.8 886.0,66.0 C895.3,76.2 909.2,90.0 921.0,102.0 C932.8,114.0 944.5,126.5 957.0,138.0 C969.5,149.5 982.7,160.7 996.0,171.0 C1009.3,181.3 1023.0,190.7 1037.0,200.0 C1051.0,209.3 1065.3,218.8 1080.0,227.0 C1094.7,235.2 1110.5,240.5 1125.0,249.0 C1139.5,257.5 1154.0,267.3 1167.0,278.0 C1180.0,288.7 1190.0,302.5 1203.0,313.0 C1216.0,323.5 1230.0,333.3 1245.0,341.0 C1260.0,348.7 1276.7,354.2 1293.0,359.0 C1309.3,363.8 1326.0,367.2 1343.0,370.0 C1360.0,372.8 1386.3,375.0 1395.0,376.0"/>
<path d="M728.0,100.0 C729.3,101.1 734.7,105.4 736.0,106.5"/>
<path d="M745.0,114.8 C749.3,117.7 761.7,126.0 771.0,132.3 C780.3,138.6 788.7,144.2 801.0,152.8 C813.3,161.4 830.2,173.7 845.0,184.0 C859.8,194.3 875.0,204.3 890.0,214.7 C905.0,225.1 920.0,236.2 935.0,246.6 C950.0,257.0 962.5,265.5 980.0,277.1 C997.5,288.7 1024.7,306.7 1040.0,316.1 C1055.3,325.5 1062.2,328.8 1072.0,333.3 C1081.8,337.8 1090.0,340.2 1099.0,343.1 C1108.0,346.0 1121.5,349.5 1126.0,350.8"/>
<path d="M1126.0,350.8 C1122.0,352.9 1109.3,359.9 1102.0,363.6 C1094.7,367.3 1090.7,369.0 1082.0,373.1 C1073.3,377.2 1058.5,384.7 1050.0,388.0 C1041.5,391.3 1040.3,391.2 1031.0,393.0 C1021.7,394.8 1003.2,397.8 994.0,399.0 C984.8,400.2 991.7,399.8 976.0,400.0 C960.3,400.2 941.3,400.0 900.0,400.0 C858.7,400.0 756.7,400.0 728.0,400.0"/>
<path d="M729.5,470.5 C733.8,470.0 746.2,468.4 755.0,467.5 C763.8,466.6 772.2,465.4 782.0,465.0 C791.8,464.6 800.5,464.6 814.0,465.0 C827.5,465.4 846.5,466.4 863.0,467.5 C879.5,468.6 896.3,470.2 913.0,471.3 C929.7,472.4 946.3,473.7 963.0,473.9 C979.7,474.1 1000.2,473.4 1013.0,472.6 C1025.8,471.8 1029.1,470.8 1040.0,468.9 C1050.9,467.0 1067.0,464.4 1078.5,461.2 C1090.0,458.0 1101.1,452.8 1109.0,449.6 C1116.9,446.4 1118.8,446.3 1126.0,442.0 C1133.2,437.7 1145.3,428.7 1152.0,424.0 C1158.7,419.3 1160.7,416.4 1166.0,413.7 C1171.3,411.0 1178.8,408.6 1184.0,408.0 C1189.2,407.4 1191.8,408.4 1197.0,409.8 C1202.2,411.2 1207.3,412.9 1215.0,416.3 C1222.7,419.7 1235.5,426.8 1243.0,430.4 C1250.5,434.0 1252.2,435.2 1260.0,438.1 C1267.8,441.0 1277.0,444.3 1290.0,447.6 C1303.0,450.9 1321.5,455.5 1338.0,457.9 C1354.5,460.3 1379.5,461.3 1389.0,462.0 C1398.5,462.7 1394.0,462.2 1395.0,462.3"/>
<path d="M134.5,604.6 C138.8,609.5 150.7,623.5 160.0,634.0 C169.3,644.5 179.0,655.4 190.3,667.4 C201.6,679.4 215.6,694.0 228.0,706.0 C240.4,718.0 249.3,726.5 264.7,739.5 C280.1,752.5 299.6,769.8 320.5,783.7 C341.4,797.7 370.2,812.0 390.3,823.2 C410.4,834.4 425.9,842.5 441.4,851.0 C456.9,859.5 470.1,864.6 483.3,874.3 C496.5,884.0 507.3,899.1 520.5,909.2 C533.7,919.3 546.9,927.8 562.4,934.8 C577.9,941.8 597.2,946.7 613.5,951.1 C629.8,955.5 644.1,958.3 660.0,961.0 C675.9,963.7 700.8,966.3 708.9,967.4"/>
<path d="M83.3,716.2 C87.1,720.7 95.9,732.8 106.0,743.3 C116.1,753.8 129.0,766.0 143.8,779.0 C158.6,792.0 175.6,806.3 195.0,821.0 C214.4,835.7 239.1,852.3 260.0,867.4 C280.9,882.5 303.8,900.4 320.5,911.5 C337.2,922.6 347.6,927.0 360.0,934.0 C372.4,941.0 389.2,950.2 395.0,953.4"/>
<path d="M413.5,962.7 C407.3,965.4 389.5,974.4 376.3,979.0 C363.1,983.6 349.2,988.3 334.5,990.6 C319.8,992.9 305.8,993.8 288.0,993.0 C270.2,992.2 247.7,990.3 227.5,986.0 C207.3,981.7 184.9,973.4 167.0,967.4 C149.1,961.4 133.2,955.0 120.0,950.0 C106.8,945.0 93.3,939.2 88.0,937.1"/>
<path d="M83.3,1011.6 C88.6,1013.6 101.9,1018.9 115.0,1023.5 C128.1,1028.1 145.6,1034.4 162.0,1039.0 C178.4,1043.6 193.3,1048.0 213.5,1051.0 C233.7,1054.0 260.1,1057.1 283.3,1056.7 C306.6,1056.3 334.4,1051.8 353.0,1048.8 C371.6,1045.8 382.6,1042.9 395.0,1039.0 C407.4,1035.1 416.3,1030.0 427.5,1025.5 C438.7,1021.0 453.5,1015.5 462.0,1012.0 C470.5,1008.5 473.5,1006.1 478.6,1004.6 C483.7,1003.1 487.6,1002.8 492.6,1003.2 C497.7,1003.6 502.7,1004.4 508.9,1007.0 C515.1,1009.6 517.0,1013.6 529.8,1018.6 C542.6,1023.6 564.7,1032.9 585.6,1037.2 C606.5,1041.5 634.8,1042.7 655.3,1044.2 C675.8,1045.8 700.0,1046.1 708.9,1046.5"/>
<path d="M787.0,554.0 C789.2,556.7 793.9,563.5 800.0,570.0 C806.1,576.5 815.5,585.2 823.5,593.1 C831.5,601.0 837.8,607.4 848.0,617.5 C858.2,627.6 872.2,642.0 885.0,653.5 C897.8,665.0 911.5,676.1 925.0,686.8 C938.5,697.5 951.7,707.9 966.0,717.7 C980.3,727.6 996.0,737.1 1011.0,745.9 C1026.0,754.7 1040.5,762.7 1056.0,770.3 C1071.5,777.9 1088.7,784.1 1104.0,791.7 C1119.3,799.3 1134.0,806.3 1148.0,816.1 C1162.0,825.9 1178.8,842.9 1188.0,850.3 C1197.2,857.7 1195.7,856.1 1203.0,860.7 C1210.3,865.3 1219.0,872.0 1232.0,877.8 C1245.0,883.6 1264.5,890.7 1281.0,895.6 C1297.5,900.5 1316.2,904.3 1331.0,907.1 C1345.8,909.9 1359.3,911.2 1370.0,912.5 C1380.7,913.8 1390.8,914.5 1395.0,914.9"/>
<path d="M745.0,663.7 C749.5,667.1 760.4,675.9 772.0,684.3 C783.6,692.6 800.6,703.8 814.5,713.8 C828.4,723.8 842.5,733.7 855.6,744.6 C868.7,755.5 881.0,767.3 893.0,779.3 C905.0,791.3 915.5,804.3 927.5,816.5 C939.5,828.7 951.9,841.0 964.7,852.5 C977.5,864.0 990.6,875.7 1004.5,885.5 C1018.4,895.3 1033.1,903.2 1048.0,911.2 C1062.9,919.2 1078.3,926.3 1094.0,933.2 C1109.7,940.1 1129.3,948.0 1142.0,952.7 C1154.7,957.4 1165.3,960.0 1170.0,961.5"/>
<path d="M1170.0,961.5 C1164.7,962.6 1146.3,966.6 1138.0,968.1 C1129.7,969.6 1128.5,969.4 1120.0,970.5 C1111.5,971.6 1095.5,973.9 1087.0,974.7 C1078.5,975.5 1077.7,975.9 1069.0,975.4 C1060.3,974.9 1048.7,974.3 1035.0,971.5 C1021.3,968.7 1003.3,962.7 987.0,958.7 C970.7,954.7 953.8,950.8 937.0,947.4 C920.2,944.0 902.3,942.6 886.0,938.1 C869.7,933.6 854.8,926.7 839.0,920.2 C823.2,913.7 806.5,904.9 791.0,899.1 C775.5,893.3 753.5,887.8 746.0,885.5"/>
<path d="M749.0,979.7 C754.3,981.7 767.5,987.0 781.0,991.5 C794.5,996.0 813.5,1002.4 830.0,1007.0 C846.5,1011.6 863.3,1015.4 880.0,1019.0 C896.7,1022.6 913.2,1025.9 930.0,1028.5 C946.8,1031.1 963.8,1032.8 981.0,1034.4 C998.2,1036.0 1019.8,1037.7 1033.0,1038.3 C1046.2,1038.9 1051.7,1038.3 1060.0,1038.1 C1068.3,1037.9 1076.3,1037.6 1083.0,1036.9 C1089.7,1036.2 1091.7,1036.1 1100.0,1034.0 C1108.3,1031.9 1124.8,1026.9 1133.0,1024.2 C1141.2,1021.6 1141.2,1021.6 1149.0,1018.1 C1156.8,1014.6 1171.8,1007.2 1179.5,1003.5 C1187.2,999.8 1187.2,1000.0 1195.0,996.1 C1202.8,992.2 1218.4,984.6 1226.0,980.3 C1233.6,976.0 1235.7,972.6 1240.5,970.5 C1245.3,968.4 1249.9,967.2 1255.0,967.4 C1260.1,967.6 1265.8,969.2 1271.0,971.7 C1276.2,974.2 1278.7,977.7 1286.0,982.7 C1293.3,987.7 1307.7,997.0 1315.0,1001.5 C1322.3,1006.0 1322.7,1005.7 1330.0,1009.5 C1337.3,1013.3 1348.2,1019.5 1359.0,1024.2 C1369.8,1028.9 1389.0,1035.4 1395.0,1037.6"/>
</g>
<text x="584.9" y="78.9" font-size="61" fill="#fff">P13</text>
<text x="1253.4" y="78.9" font-size="61" fill="#fff">P15</text>
<text x="584.8" y="650.0" font-size="61" fill="#fff">P21</text>
<text x="1254.0" y="650.0" font-size="61" fill="#fff">P23</text>
<rect x="757" y="1121" width="226" height="5" fill="#fff"/>
<text x="-0.5" y="66.8" font-size="80" fill="#161616">A</text>
<line x1="200.3" y1="1502.8" x2="715.7" y2="1502.8" stroke="#d62a1a" stroke-width="4" stroke-dasharray="21.5 13" stroke-dashoffset="12.6"/>
<polyline fill="none" stroke="#5b8fd1" stroke-width="4.4" stroke-linejoin="miter" points="295.7,1502.3 328.2,1497.0 360.6,1494.7 393.1,1499.0 425.5,1502.6 458.0,1502.6 490.5,1503.9 522.9,1504.9 555.4,1506.2 587.9,1502.3 620.3,1508.2 652.8,1517.8"/>
<polyline fill="none" stroke="#d42a1a" stroke-width="4.4" stroke-linejoin="miter" points="263.2,1502.3 295.7,1438.0 328.2,1413.5 360.6,1424.8 393.1,1439.3 425.5,1454.9 458.0,1461.5 490.5,1482.7 522.9,1482.4 555.4,1486.4 587.9,1468.5 620.3,1465.8 652.8,1463.8"/>
<polyline fill="none" stroke="#7a2ab6" stroke-width="4.4" stroke-linejoin="miter" points="295.7,1502.3 328.2,1444.3 360.6,1392.0 393.1,1380.7 425.5,1370.1 458.0,1378.0 490.5,1393.9 522.9,1399.2 555.4,1384.0 587.9,1360.8 620.3,1340.6 652.8,1333.3"/>
<rect x="198.3" y="1303.5" width="519.4" height="231.9" fill="none" stroke="#161616" stroke-width="4"/>
<line x1="295.7" y1="1535.4" x2="295.7" y2="1528.4" stroke="#161616" stroke-width="3.2"/>
<line x1="295.7" y1="1303.5" x2="295.7" y2="1310.5" stroke="#161616" stroke-width="3.2"/>
<text x="293.5" y="1569.3" font-size="31.5" text-anchor="middle" fill="#161616">15</text>
<line x1="458.0" y1="1535.4" x2="458.0" y2="1528.4" stroke="#161616" stroke-width="3.2"/>
<line x1="458.0" y1="1303.5" x2="458.0" y2="1310.5" stroke="#161616" stroke-width="3.2"/>
<text x="455.8" y="1569.3" font-size="31.5" text-anchor="middle" fill="#161616">20</text>
<line x1="620.3" y1="1535.4" x2="620.3" y2="1528.4" stroke="#161616" stroke-width="3.2"/>
<line x1="620.3" y1="1303.5" x2="620.3" y2="1310.5" stroke="#161616" stroke-width="3.2"/>
<text x="618.1" y="1569.3" font-size="31.5" text-anchor="middle" fill="#161616">25</text>
<text x="187.6" y="1543.4" font-size="31" text-anchor="end" fill="#161616">0</text>
<line x1="198.3" y1="1469.1" x2="205.3" y2="1469.1" stroke="#161616" stroke-width="3.2"/>
<line x1="717.7" y1="1469.1" x2="710.7" y2="1469.1" stroke="#161616" stroke-width="3.2"/>
<text x="187.6" y="1477.1" font-size="31" text-anchor="end" fill="#161616">2</text>
<line x1="198.3" y1="1402.9" x2="205.3" y2="1402.9" stroke="#161616" stroke-width="3.2"/>
<line x1="717.7" y1="1402.9" x2="710.7" y2="1402.9" stroke="#161616" stroke-width="3.2"/>
<text x="187.6" y="1410.9" font-size="31" text-anchor="end" fill="#161616">4</text>
<line x1="198.3" y1="1336.6" x2="205.3" y2="1336.6" stroke="#161616" stroke-width="3.2"/>
<line x1="717.7" y1="1336.6" x2="710.7" y2="1336.6" stroke="#161616" stroke-width="3.2"/>
<text x="187.6" y="1344.6" font-size="31" text-anchor="end" fill="#161616">6</text>
<text x="454" y="1617" font-size="49" text-anchor="middle" fill="#161616">age (days postnatal)</text>
<text transform="translate(108.6,1428.2) rotate(-90)" font-size="42" text-anchor="middle" fill="#161616">normalized change</text>
<text transform="translate(154,1428.2) rotate(-90)" font-size="42" text-anchor="middle" fill="#161616">in presynaptic density</text>
<text x="-0.7" y="1285.2" font-size="78" fill="#161616">B</text>
<rect x="960.7" y="1416.1" width="12.5" height="49.9" fill="#d7d7d7" stroke="#161616" stroke-width="3.8"/>
<rect x="973.2" y="1441.1" width="12.5" height="24.9" fill="#d7d7d7" stroke="#161616" stroke-width="3.8"/>
<rect x="985.7" y="1441.1" width="12.5" height="24.9" fill="#d7d7d7" stroke="#161616" stroke-width="3.8"/>
<rect x="998.3" y="1416.1" width="12.5" height="49.9" fill="#d7d7d7" stroke="#161616" stroke-width="3.8"/>
<rect x="1010.8" y="1441.1" width="12.5" height="24.9" fill="#d7d7d7" stroke="#161616" stroke-width="3.8"/>
<rect x="1023.4" y="1391.2" width="12.5" height="74.8" fill="#d7d7d7" stroke="#161616" stroke-width="3.8"/>
<rect x="1123.6" y="1441.1" width="25.1" height="24.9" fill="#d7d7d7" stroke="#161616" stroke-width="3.8"/>
<rect x="1148.7" y="1441.1" width="25.1" height="24.9" fill="#d7d7d7" stroke="#161616" stroke-width="3.8"/>
<rect x="1324.2" y="1441.1" width="25.1" height="24.9" fill="#d7d7d7" stroke="#161616" stroke-width="3.8"/>
<rect x="973.2" y="1628.1" width="12.5" height="64.9" fill="#d7d7d7" stroke="#161616" stroke-width="3.8"/>
<rect x="985.7" y="1498.4" width="12.5" height="194.6" fill="#d7d7d7" stroke="#161616" stroke-width="3.8"/>
<rect x="1010.8" y="1628.1" width="12.5" height="64.9" fill="#d7d7d7" stroke="#161616" stroke-width="3.8"/>
<rect x="973.2" y="1855.1" width="12.5" height="64.9" fill="#d7d7d7" stroke="#161616" stroke-width="3.8"/>
<rect x="985.7" y="1725.4" width="12.5" height="194.6" fill="#d7d7d7" stroke="#161616" stroke-width="3.8"/>
<rect x="998.3" y="1855.1" width="12.5" height="64.9" fill="#d7d7d7" stroke="#161616" stroke-width="3.8"/>
<rect x="985.7" y="2082.1" width="12.5" height="64.9" fill="#d7d7d7" stroke="#161616" stroke-width="3.8"/>
<rect x="998.3" y="2082.1" width="12.5" height="64.9" fill="#d7d7d7" stroke="#161616" stroke-width="3.8"/>
<rect x="1010.8" y="2017.3" width="12.5" height="129.7" fill="#d7d7d7" stroke="#161616" stroke-width="3.8"/>
<rect x="1023.4" y="2082.1" width="12.5" height="64.9" fill="#d7d7d7" stroke="#161616" stroke-width="3.8"/>
<line x1="997.8" y1="1241.0" x2="997.8" y2="2147.0" stroke="#dc2c16" stroke-width="4" stroke-dasharray="21 12.5" stroke-dashoffset="8.5"/>
<rect x="898.0" y="1239.0" width="502.0" height="227.0" fill="none" stroke="#161616" stroke-width="3.9"/>
<line x1="898.0" y1="1401.1" x2="905.5" y2="1401.1" stroke="#161616" stroke-width="4"/>
<line x1="1400.0" y1="1401.1" x2="1392.5" y2="1401.1" stroke="#161616" stroke-width="4"/>
<text x="889" y="1406.7" font-size="31" text-anchor="end" letter-spacing="-2.8" fill="#161616">0.2</text>
<line x1="898.0" y1="1336.3" x2="905.5" y2="1336.3" stroke="#161616" stroke-width="4"/>
<line x1="1400.0" y1="1336.3" x2="1392.5" y2="1336.3" stroke="#161616" stroke-width="4"/>
<text x="889" y="1341.9" font-size="31" text-anchor="end" letter-spacing="-2.8" fill="#161616">0.4</text>
<line x1="898.0" y1="1271.4" x2="905.5" y2="1271.4" stroke="#161616" stroke-width="4"/>
<line x1="1400.0" y1="1271.4" x2="1392.5" y2="1271.4" stroke="#161616" stroke-width="4"/>
<text x="889" y="1277.0" font-size="31" text-anchor="end" letter-spacing="-2.8" fill="#161616">0.6</text>
<line x1="998.8" y1="1239.0" x2="998.8" y2="1246.5" stroke="#161616" stroke-width="3.8"/>
<line x1="998.8" y1="1466.0" x2="998.8" y2="1458.5" stroke="#161616" stroke-width="3.8"/>
<line x1="1099.1" y1="1239.0" x2="1099.1" y2="1246.5" stroke="#161616" stroke-width="3.8"/>
<line x1="1099.1" y1="1466.0" x2="1099.1" y2="1458.5" stroke="#161616" stroke-width="3.8"/>
<line x1="1199.3" y1="1239.0" x2="1199.3" y2="1246.5" stroke="#161616" stroke-width="3.8"/>
<line x1="1199.3" y1="1466.0" x2="1199.3" y2="1458.5" stroke="#161616" stroke-width="3.8"/>
<line x1="1299.6" y1="1239.0" x2="1299.6" y2="1246.5" stroke="#161616" stroke-width="3.8"/>
<line x1="1299.6" y1="1466.0" x2="1299.6" y2="1458.5" stroke="#161616" stroke-width="3.8"/>
<text x="1074" y="1303.7" font-size="38" fill="#161616">P13-15</text>
<text x="1256" y="1303.7" font-size="38" fill="#161616">P16-18</text>
<path d="M1200.3,1288.5 H1240 M1223.9,1278.2 L1240.6,1288.5 L1223.9,1298.8" fill="none" stroke="#161616" stroke-width="2.2"/>
<rect x="898.0" y="1466.0" width="502.0" height="227.0" fill="none" stroke="#161616" stroke-width="3.9"/>
<line x1="898.0" y1="1628.1" x2="905.5" y2="1628.1" stroke="#161616" stroke-width="4"/>
<line x1="1400.0" y1="1628.1" x2="1392.5" y2="1628.1" stroke="#161616" stroke-width="4"/>
<text x="889" y="1633.7" font-size="31" text-anchor="end" letter-spacing="-2.8" fill="#161616">0.2</text>
<line x1="898.0" y1="1563.3" x2="905.5" y2="1563.3" stroke="#161616" stroke-width="4"/>
<line x1="1400.0" y1="1563.3" x2="1392.5" y2="1563.3" stroke="#161616" stroke-width="4"/>
<text x="889" y="1568.9" font-size="31" text-anchor="end" letter-spacing="-2.8" fill="#161616">0.4</text>
<line x1="898.0" y1="1498.4" x2="905.5" y2="1498.4" stroke="#161616" stroke-width="4"/>
<line x1="1400.0" y1="1498.4" x2="1392.5" y2="1498.4" stroke="#161616" stroke-width="4"/>
<text x="889" y="1504.0" font-size="31" text-anchor="end" letter-spacing="-2.8" fill="#161616">0.6</text>
<line x1="998.8" y1="1466.0" x2="998.8" y2="1473.5" stroke="#161616" stroke-width="3.8"/>
<line x1="998.8" y1="1693.0" x2="998.8" y2="1685.5" stroke="#161616" stroke-width="3.8"/>
<line x1="1099.1" y1="1466.0" x2="1099.1" y2="1473.5" stroke="#161616" stroke-width="3.8"/>
<line x1="1099.1" y1="1693.0" x2="1099.1" y2="1685.5" stroke="#161616" stroke-width="3.8"/>
<line x1="1199.3" y1="1466.0" x2="1199.3" y2="1473.5" stroke="#161616" stroke-width="3.8"/>
<line x1="1199.3" y1="1693.0" x2="1199.3" y2="1685.5" stroke="#161616" stroke-width="3.8"/>
<line x1="1299.6" y1="1466.0" x2="1299.6" y2="1473.5" stroke="#161616" stroke-width="3.8"/>
<line x1="1299.6" y1="1693.0" x2="1299.6" y2="1685.5" stroke="#161616" stroke-width="3.8"/>
<text x="1074" y="1531.7" font-size="38" fill="#161616">P16-18</text>
<text x="1256" y="1531.7" font-size="38" fill="#161616">P19-21</text>
<path d="M1200.3,1516.5 H1240 M1223.9,1506.2 L1240.6,1516.5 L1223.9,1526.8" fill="none" stroke="#161616" stroke-width="2.2"/>
<rect x="898.0" y="1693.0" width="502.0" height="227.0" fill="none" stroke="#161616" stroke-width="3.9"/>
<line x1="898.0" y1="1855.1" x2="905.5" y2="1855.1" stroke="#161616" stroke-width="4"/>
<line x1="1400.0" y1="1855.1" x2="1392.5" y2="1855.1" stroke="#161616" stroke-width="4"/>
<text x="889" y="1860.7" font-size="31" text-anchor="end" letter-spacing="-2.8" fill="#161616">0.2</text>
<line x1="898.0" y1="1790.3" x2="905.5" y2="1790.3" stroke="#161616" stroke-width="4"/>
<line x1="1400.0" y1="1790.3" x2="1392.5" y2="1790.3" stroke="#161616" stroke-width="4"/>
<text x="889" y="1795.9" font-size="31" text-anchor="end" letter-spacing="-2.8" fill="#161616">0.4</text>
<line x1="898.0" y1="1725.4" x2="905.5" y2="1725.4" stroke="#161616" stroke-width="4"/>
<line x1="1400.0" y1="1725.4" x2="1392.5" y2="1725.4" stroke="#161616" stroke-width="4"/>
<text x="889" y="1731.0" font-size="31" text-anchor="end" letter-spacing="-2.8" fill="#161616">0.6</text>
<line x1="998.8" y1="1693.0" x2="998.8" y2="1700.5" stroke="#161616" stroke-width="3.8"/>
<line x1="998.8" y1="1920.0" x2="998.8" y2="1912.5" stroke="#161616" stroke-width="3.8"/>
<line x1="1099.1" y1="1693.0" x2="1099.1" y2="1700.5" stroke="#161616" stroke-width="3.8"/>
<line x1="1099.1" y1="1920.0" x2="1099.1" y2="1912.5" stroke="#161616" stroke-width="3.8"/>
<line x1="1199.3" y1="1693.0" x2="1199.3" y2="1700.5" stroke="#161616" stroke-width="3.8"/>
<line x1="1199.3" y1="1920.0" x2="1199.3" y2="1912.5" stroke="#161616" stroke-width="3.8"/>
<line x1="1299.6" y1="1693.0" x2="1299.6" y2="1700.5" stroke="#161616" stroke-width="3.8"/>
<line x1="1299.6" y1="1920.0" x2="1299.6" y2="1912.5" stroke="#161616" stroke-width="3.8"/>
<text x="1074" y="1760.3" font-size="38" fill="#161616">P19-21</text>
<text x="1256" y="1760.3" font-size="38" fill="#161616">P22-24</text>
<path d="M1200.3,1745.1 H1240 M1223.9,1734.8 L1240.6,1745.1 L1223.9,1755.4" fill="none" stroke="#161616" stroke-width="2.2"/>
<rect x="898.0" y="1920.0" width="502.0" height="227.0" fill="none" stroke="#161616" stroke-width="3.9"/>
<line x1="898.0" y1="2082.1" x2="905.5" y2="2082.1" stroke="#161616" stroke-width="4"/>
<line x1="1400.0" y1="2082.1" x2="1392.5" y2="2082.1" stroke="#161616" stroke-width="4"/>
<text x="889" y="2087.7" font-size="31" text-anchor="end" letter-spacing="-2.8" fill="#161616">0.2</text>
<line x1="898.0" y1="2017.3" x2="905.5" y2="2017.3" stroke="#161616" stroke-width="4"/>
<line x1="1400.0" y1="2017.3" x2="1392.5" y2="2017.3" stroke="#161616" stroke-width="4"/>
<text x="889" y="2022.9" font-size="31" text-anchor="end" letter-spacing="-2.8" fill="#161616">0.4</text>
<line x1="898.0" y1="1952.4" x2="905.5" y2="1952.4" stroke="#161616" stroke-width="4"/>
<line x1="1400.0" y1="1952.4" x2="1392.5" y2="1952.4" stroke="#161616" stroke-width="4"/>
<text x="889" y="1958.0" font-size="31" text-anchor="end" letter-spacing="-2.8" fill="#161616">0.6</text>
<line x1="998.8" y1="1920.0" x2="998.8" y2="1927.5" stroke="#161616" stroke-width="3.8"/>
<line x1="998.8" y1="2147.0" x2="998.8" y2="2139.5" stroke="#161616" stroke-width="3.8"/>
<line x1="1099.1" y1="1920.0" x2="1099.1" y2="1927.5" stroke="#161616" stroke-width="3.8"/>
<line x1="1099.1" y1="2147.0" x2="1099.1" y2="2139.5" stroke="#161616" stroke-width="3.8"/>
<line x1="1199.3" y1="1920.0" x2="1199.3" y2="1927.5" stroke="#161616" stroke-width="3.8"/>
<line x1="1199.3" y1="2147.0" x2="1199.3" y2="2139.5" stroke="#161616" stroke-width="3.8"/>
<line x1="1299.6" y1="1920.0" x2="1299.6" y2="1927.5" stroke="#161616" stroke-width="3.8"/>
<line x1="1299.6" y1="2147.0" x2="1299.6" y2="2139.5" stroke="#161616" stroke-width="3.8"/>
<text x="1074" y="1984.6" font-size="38" fill="#161616">P22-24</text>
<text x="1256" y="1984.6" font-size="38" fill="#161616">P25-27</text>
<path d="M1200.3,1969.4 H1240 M1223.9,1959.1 L1240.6,1969.4 L1223.9,1979.7" fill="none" stroke="#161616" stroke-width="2.2"/>
<line x1="898.0" y1="1693.0" x2="1400.0" y2="1693.0" stroke="#161616" stroke-width="5.6"/>
<text x="887.8" y="2155.6" font-size="31" text-anchor="end" fill="#161616">0</text>
<text x="904.5" y="2189.2" font-size="31" text-anchor="middle" fill="#161616">-200</text>
<text x="999.7" y="2189.2" font-size="31" text-anchor="middle" fill="#161616">0</text>
<text x="1104.5" y="2189.2" font-size="31" text-anchor="middle" fill="#161616">200</text>
<text x="1205.0" y="2189.2" font-size="31" text-anchor="middle" fill="#161616">400</text>
<text x="1305.3" y="2189.2" font-size="31" text-anchor="middle" fill="#161616">600</text>
<text x="1151.6" y="2235.5" font-size="48.6" text-anchor="middle" fill="#161616">% change in density</text>
<text transform="translate(826.5,1669.5) rotate(-90)" font-size="48" text-anchor="middle" fill="#161616">probability</text>
<text x="748.7" y="1288" font-size="80" fill="#161616">C</text>
<path d="M208.4,1724.6 V2156.3 H709.4" fill="none" stroke="#161616" stroke-width="4"/>
<line x1="208.4" y1="2106.9" x2="215.3" y2="2106.9" stroke="#161616" stroke-width="4.2"/>
<text x="201.3" y="2112.9" font-size="30" text-anchor="end" fill="#161616">1</text>
<line x1="208.4" y1="2024.6" x2="215.3" y2="2024.6" stroke="#161616" stroke-width="4.2"/>
<text x="201.3" y="2030.6" font-size="30" text-anchor="end" fill="#161616">2</text>
<line x1="208.4" y1="1942.2" x2="215.3" y2="1942.2" stroke="#161616" stroke-width="4.2"/>
<text x="201.3" y="1948.2" font-size="30" text-anchor="end" fill="#161616">3</text>
<line x1="208.4" y1="1859.9" x2="215.3" y2="1859.9" stroke="#161616" stroke-width="4.2"/>
<text x="201.3" y="1865.9" font-size="30" text-anchor="end" fill="#161616">4</text>
<line x1="208.4" y1="1777.5" x2="215.3" y2="1777.5" stroke="#161616" stroke-width="4.2"/>
<text x="201.3" y="1783.5" font-size="30" text-anchor="end" fill="#161616">5</text>
<text x="282.4" y="2195.2" font-size="30" text-anchor="middle" fill="#161616">13</text>
<line x1="374.3" y1="2156" x2="374.3" y2="2162.8" stroke="#161616" stroke-width="4.2"/>
<text x="375.3" y="2195.2" font-size="30" text-anchor="middle" fill="#161616">14</text>
<line x1="468.0" y1="2156" x2="468.0" y2="2162.8" stroke="#161616" stroke-width="4.2"/>
<text x="469.0" y="2195.2" font-size="30" text-anchor="middle" fill="#161616">15</text>
<line x1="561.3" y1="2156" x2="561.3" y2="2162.8" stroke="#161616" stroke-width="4.2"/>
<text x="562.3" y="2195.2" font-size="30" text-anchor="middle" fill="#161616">16</text>
<line x1="655.2" y1="2156" x2="655.2" y2="2162.8" stroke="#161616" stroke-width="4.2"/>
<text x="656.2" y="2195.2" font-size="30" text-anchor="middle" fill="#161616">17</text>
<line x1="281.4" y1="2101.7" x2="281.4" y2="2118.3" stroke="#161616" stroke-width="3.8"/>
<line x1="277.6" y1="2101.7" x2="285.2" y2="2101.7" stroke="#161616" stroke-width="3.4"/>
<line x1="277.6" y1="2118.3" x2="285.2" y2="2118.3" stroke="#161616" stroke-width="3.4"/>
<line x1="374.3" y1="1987.0" x2="374.3" y2="2056.2" stroke="#161616" stroke-width="3.8"/>
<line x1="370.5" y1="1987.0" x2="378.1" y2="1987.0" stroke="#161616" stroke-width="3.4"/>
<line x1="370.5" y1="2056.2" x2="378.1" y2="2056.2" stroke="#161616" stroke-width="3.4"/>
<line x1="468.0" y1="2007.0" x2="468.0" y2="2083.6" stroke="#161616" stroke-width="3.8"/>
<line x1="464.2" y1="2007.0" x2="471.8" y2="2007.0" stroke="#161616" stroke-width="3.4"/>
<line x1="464.2" y1="2083.6" x2="471.8" y2="2083.6" stroke="#161616" stroke-width="3.4"/>
<line x1="561.3" y1="1904.5" x2="561.3" y2="2049.0" stroke="#161616" stroke-width="3.8"/>
<line x1="557.5" y1="1904.5" x2="565.1" y2="1904.5" stroke="#161616" stroke-width="3.4"/>
<line x1="557.5" y1="2049.0" x2="565.1" y2="2049.0" stroke="#161616" stroke-width="3.4"/>
<line x1="655.2" y1="1742.0" x2="655.2" y2="2019.5" stroke="#161616" stroke-width="3.8"/>
<line x1="651.4" y1="1742.0" x2="659.0" y2="1742.0" stroke="#161616" stroke-width="3.4"/>
<line x1="651.4" y1="2019.5" x2="659.0" y2="2019.5" stroke="#161616" stroke-width="3.4"/>
<polyline fill="none" stroke="#161616" stroke-width="4" points="281.4,2109.8 374.3,2020.8 468.0,2043.9 561.3,1977.2 655.2,1881.1"/>
<rect x="277.3" y="2101.2" width="7.7" height="17.4" fill="#161616"/>
<circle cx="281.4" cy="2109.8" r="5.5" fill="#161616"/>
<circle cx="374.3" cy="2020.8" r="5.5" fill="#161616"/>
<circle cx="468.0" cy="2043.9" r="5.5" fill="#161616"/>
<circle cx="561.3" cy="1977.2" r="5.5" fill="#161616"/>
<circle cx="655.2" cy="1881.1" r="5.5" fill="#161616"/>
<text x="459.4" y="2244" font-size="49" text-anchor="middle" fill="#161616">age (days postnatal)</text>
<text transform="translate(110.6,1943.9) rotate(-90)" font-size="42.6" text-anchor="middle" fill="#161616">normalized change in</text>
<text transform="translate(160.6,1937.5) rotate(-90)" font-size="42.6" text-anchor="middle" fill="#161616">presynaptic density</text>
<text x="-0.2" y="1749" font-size="79" fill="#161616">D</text>
</svg>
</body></html>
